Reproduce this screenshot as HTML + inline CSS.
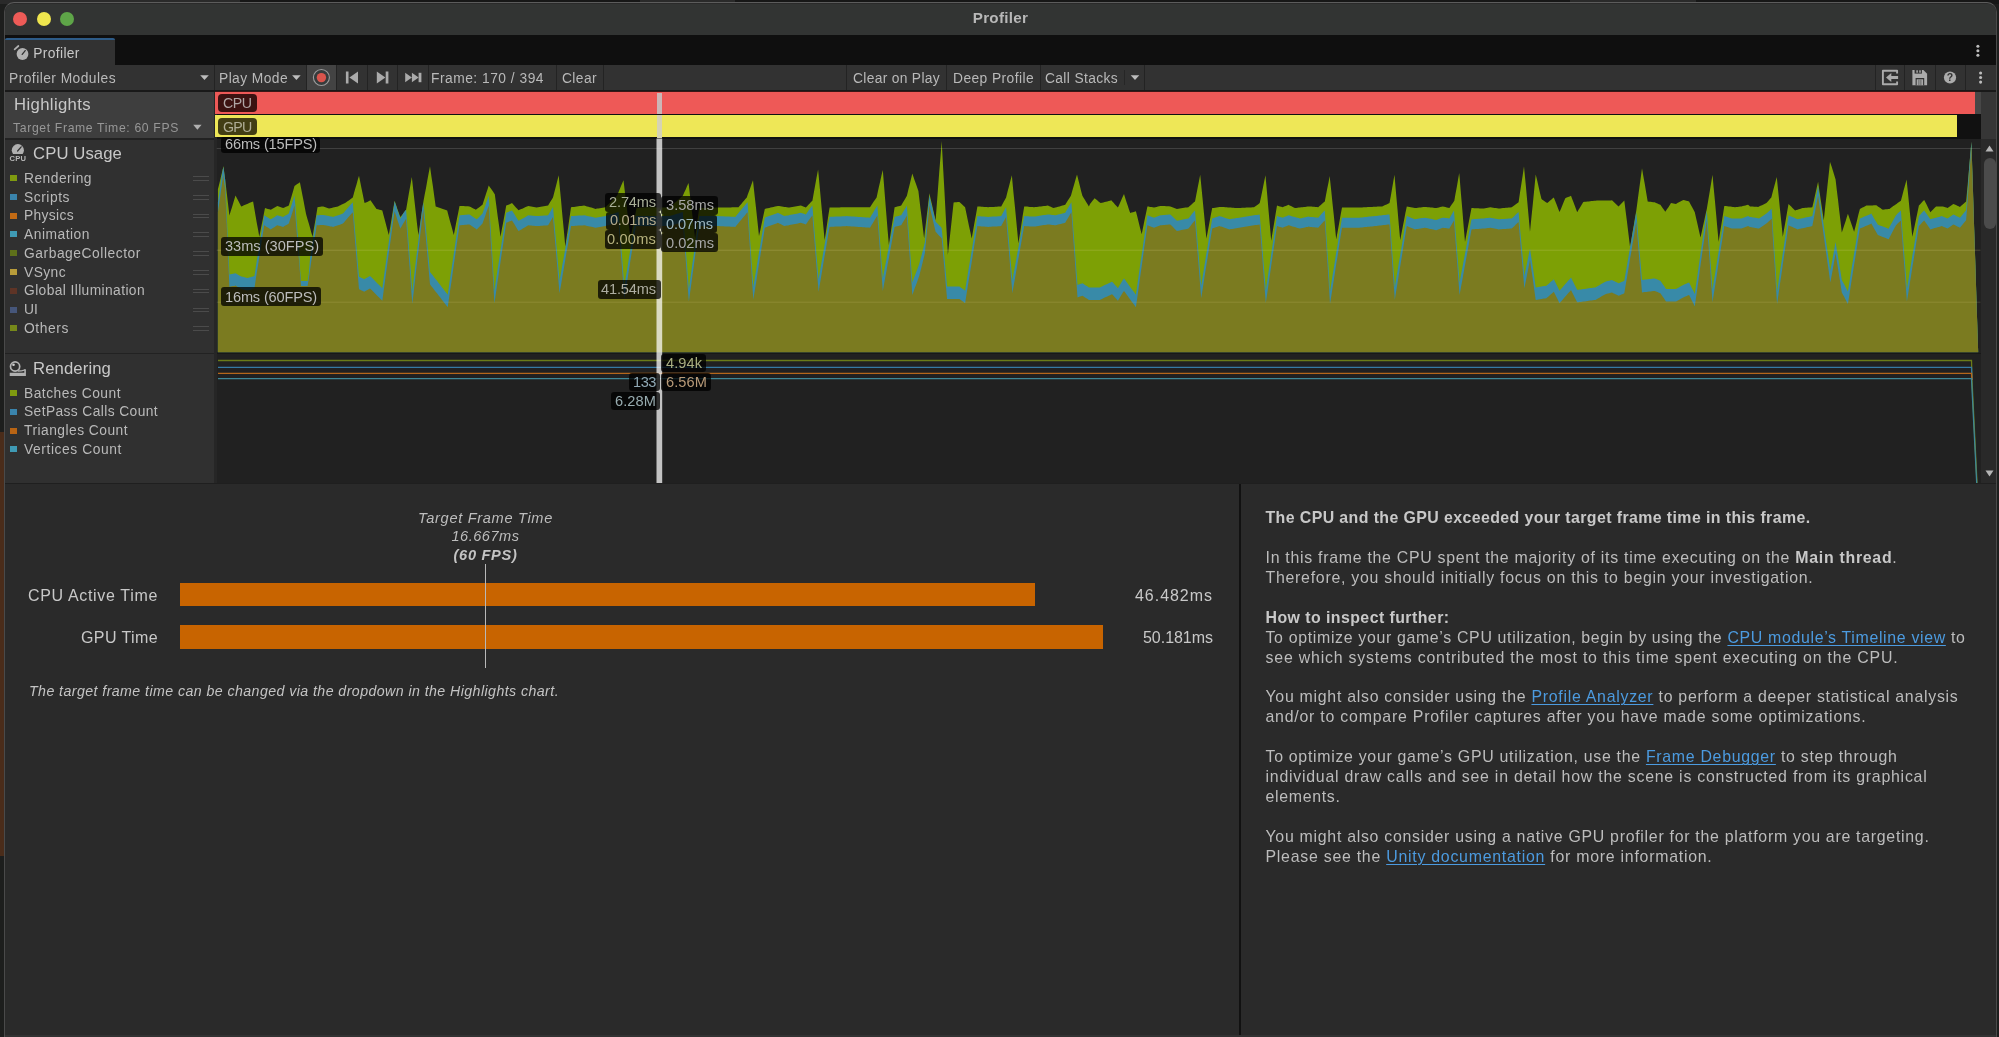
<!DOCTYPE html>
<html><head><meta charset="utf-8"><title>Profiler</title>
<style>
html,body{margin:0;padding:0;}
body{width:1999px;height:1037px;overflow:hidden;background:#1d1e1d;font-family:"Liberation Sans", sans-serif;position:relative;}
div,span,svg{position:absolute;box-sizing:border-box;}
.t{white-space:nowrap;line-height:20px;height:20px;}
.t b{position:static;font-weight:700;color:#c8c8c8}
.t span{position:static;}
.lnk{color:#4c9be0;text-decoration:underline;text-decoration-thickness:1px;text-underline-offset:2px;}
.sep{width:1px;top:65px;height:25px;background:#232323;}
.sq{left:10.4px;width:6.4px;height:6.2px;}
.hd{left:192.5px;width:16.7px;height:4.8px;border-top:1.2px solid #4b4b4b;border-bottom:1.2px solid #4b4b4b;}
#root{left:0;top:0;width:1999px;height:1037px;overflow:hidden;will-change:transform;background:#1d1e1d}
</style></head><body><div id="root">
<!-- background strips (other app behind) -->
<div style="left:0;top:0;width:1999px;height:4px;background:#171717"></div><div style="left:0;top:0;width:240px;height:4px;background:#2a2a2a"></div><div style="left:640px;top:0;width:95px;height:4px;background:#2a2a2a"></div><div style="left:1570px;top:0;width:126px;height:4px;background:#2a2a2a"></div>
<div style="left:0;top:431.5px;width:4px;height:424px;background:#4a2c1a"></div>
<!-- window -->
<div id="win" style="left:4px;top:2.2px;width:1993px;height:1040px;background:#2a2a2a;border-radius:10px 10px 0 0;overflow:hidden;border:1px solid #4a4a4a;border-top:1.8px solid #5c5c5c"></div><div style="left:5px;top:1034.7px;width:1991px;height:3px;background:#323232"></div>
<div style="left:5px;top:4px;width:1991px;height:31px;background:#323433;border-radius:8px 8px 0 0"></div>
<!-- traffic lights -->
<div style="left:13px;top:12px;width:14px;height:14px;border-radius:50%;background:#ee5b57"></div>
<div style="left:36.5px;top:12px;width:14px;height:14px;border-radius:50%;background:#efe64e"></div>
<div style="left:60px;top:12px;width:14px;height:14px;border-radius:50%;background:#5ea548"></div>
<!-- tab bar -->
<div style="left:5px;top:35px;width:1991px;height:30px;background:#0f0f0f"></div>
<div style="left:5px;top:38px;width:110px;height:27px;background:#323232;border-top:2px solid #2d5b87;border-radius:2px 2px 0 0"></div>
<!-- toolbar -->
<div style="left:5px;top:65px;width:1991px;height:25px;background:#323232"></div>
<div style="left:5px;top:90px;width:1991px;height:2px;background:#191919"></div>
<div style="left:307px;top:65px;width:29px;height:25px;background:#434343"></div>
<div style="left:215.2px;top:90.8px;width:1760px;height:1.2px;background:#3a1716"></div>
<div class="sep" style="left:214px"></div><div class="sep" style="left:306px"></div><div class="sep" style="left:336px"></div><div class="sep" style="left:367px"></div><div class="sep" style="left:397px"></div><div class="sep" style="left:428px"></div><div class="sep" style="left:556px"></div><div class="sep" style="left:603px"></div><div class="sep" style="left:846px"></div><div class="sep" style="left:946px"></div><div class="sep" style="left:1040px"></div><div class="sep" style="left:1144px"></div><div class="sep" style="left:1875px"></div><div class="sep" style="left:1904px"></div><div class="sep" style="left:1935px"></div><div class="sep" style="left:1965px"></div>
<div style="left:1124px;top:70px;width:1px;height:15px;background:#262626"></div>
<!-- left panel -->
<div style="left:5px;top:92px;width:209px;height:46px;background:#3e3e3e"></div>
<div style="left:5px;top:138px;width:209px;height:1.5px;background:#222"></div>
<div style="left:5px;top:139.5px;width:209px;height:213px;background:#303030"></div>
<div style="left:5px;top:352.5px;width:209px;height:1.5px;background:#222"></div>
<div style="left:5px;top:354px;width:209px;height:129.3px;background:#303030"></div>
<div style="left:214px;top:92px;width:2.5px;height:391px;background:#262626"></div>
<!-- charts bg -->
<div style="left:216.5px;top:92px;width:1764.5px;height:46.5px;background:#111"></div>
<div style="left:216.5px;top:138.5px;width:1764.5px;height:344.8px;background:#212121"></div>
<div style="left:216.5px;top:352.6px;width:1764.5px;height:1.6px;background:#181818"></div>
<!-- scrollbar column -->
<div style="left:1981px;top:92px;width:15px;height:46.5px;background:#363636"></div>
<div style="left:1981px;top:138.5px;width:15px;height:344.8px;background:#292929"></div>
<div style="left:1983.5px;top:157.5px;width:12.5px;height:71px;background:#4b4b4b;border-radius:6px"></div>
<svg style="left:1981px;top:140px" width="15" height="345" viewBox="0 0 15 345"><path d="M4.5,11.5 L12.5,11.5 L8.5,5.5 Z" fill="#b5b5b5"/><path d="M4.5,330.5 L12.5,330.5 L8.5,336.5 Z" fill="#b5b5b5"/></svg>
<!-- highlights bars -->
<div style="left:215.2px;top:92px;width:1759.8px;height:22px;background:#ee5957"></div>
<div style="left:1975px;top:92px;width:5.5px;height:22.3px;background:#474747"></div>
<div style="left:215.2px;top:115.2px;width:1741.8px;height:22.3px;background:#eee757"></div>
<div style="left:656.5px;top:93px;width:5.5px;height:21px;background:#c9bcbc;opacity:.95"></div>
<div style="left:656.5px;top:115.4px;width:5.5px;height:22.2px;background:#d6d3b4"></div>
<div style="left:218px;top:94.3px;width:38.6px;height:17.3px;border-radius:4px;background:#3c1211"></div>
<div style="left:218px;top:117.8px;width:38.6px;height:17.3px;border-radius:4px;background:#423e14"></div>
<!-- main chart -->
<svg style="left:0;top:0" width="1999" height="1037" viewBox="0 0 1999 1037">
<defs><clipPath id="cc"><rect x="216.5" y="138.5" width="1764.5" height="214"/></clipPath></defs>
<g clip-path="url(#cc)" shape-rendering="geometricPrecision">
<path d="M217.9,352.3 L217.9,189.2 L219.3,183.7 L220.6,178.3 L221.9,172.7 L223.2,167.3 L223.5,165.9 L224.3,172.8 L225.2,179.7 L226.6,191.6 L228.0,203.5 L229.4,215.4 L230.6,211.4 L231.9,207.4 L233.1,203.4 L234.3,199.4 L235.5,195.4 L236.9,198.2 L238.4,200.9 L239.8,203.7 L241.2,206.4 L242.6,205.9 L243.9,205.3 L245.2,204.8 L246.5,204.2 L247.8,203.7 L249.1,203.1 L250.4,202.6 L251.7,202.0 L253.1,201.5 L254.4,208.9 L255.6,215.9 L256.8,222.9 L258.1,229.8 L259.3,236.7 L260.5,230.6 L261.7,224.4 L263.0,218.3 L264.2,212.1 L265.0,208.1 L266.4,208.5 L267.9,208.9 L269.3,209.3 L270.8,209.7 L272.1,208.9 L273.4,208.2 L274.7,207.4 L276.0,206.7 L277.3,205.9 L278.8,206.5 L280.2,207.0 L281.6,207.5 L283.1,208.1 L284.5,207.4 L285.9,206.8 L287.4,206.2 L288.8,205.6 L290.2,200.7 L291.7,195.8 L293.1,190.9 L294.5,185.9 L295.9,185.0 L297.2,184.1 L298.6,183.2 L299.9,182.3 L301.1,188.2 L302.3,194.6 L303.6,201.0 L304.8,207.4 L306.0,213.8 L306.8,216.7 L307.6,219.5 L308.9,223.8 L310.1,228.1 L311.3,232.4 L312.6,236.7 L313.9,228.6 L315.3,220.4 L316.7,212.2 L317.5,207.3 L318.9,207.0 L320.4,206.8 L321.8,206.6 L323.2,206.4 L324.7,206.9 L326.1,207.5 L327.5,208.0 L329.0,208.5 L330.3,208.2 L331.7,207.9 L333.1,207.6 L334.3,207.3 L335.5,207.0 L336.8,206.7 L338.0,206.4 L339.2,205.8 L340.4,205.2 L341.7,204.6 L342.9,204.0 L344.0,203.4 L345.1,202.9 L346.2,202.3 L347.5,201.3 L348.8,200.4 L350.1,199.4 L351.4,198.4 L352.8,197.4 L354.0,193.1 L355.2,188.7 L356.5,184.4 L357.7,180.1 L359.0,175.8 L360.3,182.2 L361.6,188.7 L362.9,195.1 L364.2,201.5 L364.6,203.1 L365.9,202.5 L367.3,201.9 L368.6,201.2 L370.0,200.6 L370.5,200.3 L371.7,202.0 L372.9,203.8 L374.1,205.5 L375.3,207.2 L376.5,208.9 L378.0,209.3 L379.4,209.7 L380.8,210.1 L382.3,210.5 L383.6,215.4 L384.9,220.3 L386.2,225.3 L387.5,230.2 L388.8,235.1 L390.3,226.5 L391.7,217.9 L393.1,209.3 L394.6,200.7 L396.0,204.8 L397.4,208.9 L398.9,213.0 L400.3,217.1 L401.8,215.2 L403.2,213.4 L404.6,211.5 L406.1,209.7 L407.5,201.4 L408.9,193.3 L410.4,185.0 L411.8,176.9 L412.3,181.3 L413.5,192.0 L414.7,202.8 L415.9,213.6 L417.1,224.4 L418.4,235.1 L419.6,226.9 L420.8,218.7 L422.0,210.5 L423.3,202.3 L424.6,195.1 L426.0,187.9 L427.3,180.6 L428.6,173.5 L430.0,166.2 L431.4,176.3 L432.9,186.3 L434.3,196.4 L435.7,206.4 L437.2,206.9 L438.6,207.4 L440.1,208.0 L441.5,208.5 L442.9,209.0 L444.4,209.5 L445.8,210.0 L447.2,210.5 L447.7,212.4 L448.9,216.9 L450.1,221.5 L451.4,226.0 L452.6,230.6 L453.8,235.1 L455.2,227.8 L456.6,220.5 L458.1,213.2 L459.5,205.9 L460.9,206.0 L462.3,206.1 L463.7,206.1 L465.1,206.2 L466.6,206.3 L467.9,206.3 L469.4,206.4 L470.7,207.1 L472.0,207.7 L473.3,208.4 L474.6,209.0 L475.9,209.7 L476.7,209.1 L478.2,208.0 L479.6,206.9 L481.1,205.8 L482.5,204.8 L483.7,200.9 L485.0,197.1 L486.2,193.2 L487.5,189.4 L488.7,185.6 L490.1,187.6 L491.6,189.6 L493.0,191.6 L494.4,193.7 L494.8,194.2 L496.2,204.8 L497.6,215.4 L499.1,226.1 L500.5,236.7 L501.9,229.0 L503.4,221.2 L504.8,213.4 L506.2,205.6 L507.7,205.0 L509.1,204.4 L510.6,203.8 L512.0,203.1 L513.3,204.5 L514.6,205.9 L515.9,207.4 L517.2,208.8 L518.5,210.2 L520.0,209.6 L521.4,209.0 L522.8,208.4 L524.2,207.8 L525.6,207.1 L527.0,206.5 L528.4,205.9 L529.8,206.2 L531.1,206.5 L532.5,206.7 L533.9,207.0 L535.2,207.3 L536.6,207.6 L538.0,207.3 L539.5,207.1 L540.9,206.8 L542.3,206.6 L543.8,206.3 L545.2,206.1 L546.6,205.8 L548.1,205.6 L549.3,203.5 L550.5,201.5 L551.8,199.4 L553.0,197.4 L554.4,191.9 L555.9,186.3 L557.3,180.8 L558.7,175.3 L559.5,184.2 L561.0,199.7 L562.4,215.4 L563.9,231.0 L565.3,246.6 L566.7,236.8 L568.2,226.9 L569.6,217.0 L571.0,207.2 L572.5,207.1 L574.0,206.9 L575.4,206.7 L576.9,206.5 L578.3,206.3 L579.8,206.1 L581.2,206.0 L582.7,205.8 L584.1,205.6 L585.6,206.0 L587.0,206.4 L588.5,206.8 L589.9,207.2 L591.3,207.6 L592.8,208.1 L594.2,208.5 L595.6,208.9 L597.0,208.6 L598.4,208.4 L599.9,208.2 L601.2,207.9 L602.7,207.7 L604.1,207.5 L605.5,207.2 L606.9,205.8 L608.3,204.4 L609.8,202.9 L611.2,201.5 L612.6,200.1 L614.1,198.6 L615.5,197.2 L617.0,195.7 L617.8,193.8 L618.6,191.9 L619.8,188.9 L621.0,186.0 L622.3,183.1 L623.5,180.2 L624.3,187.1 L625.5,197.4 L626.8,207.6 L628.0,217.9 L629.2,228.1 L630.4,238.4 L631.8,231.8 L633.1,225.2 L634.5,218.6 L635.8,212.0 L636.6,208.1 L638.1,208.0 L639.5,207.8 L640.9,207.7 L642.4,207.6 L643.8,207.5 L645.2,207.4 L646.7,207.3 L648.1,207.2 L649.0,207.2 L650.0,207.2 L651.4,207.3 L652.8,207.3 L654.2,207.3 L655.6,207.3 L657.0,207.4 L658.4,207.4 L659.8,207.4 L661.2,207.4 L662.6,207.4 L664.1,207.5 L665.5,207.5 L666.9,207.5 L668.3,207.5 L669.7,207.6 L671.1,206.2 L672.6,204.9 L674.0,203.6 L675.5,202.3 L677.0,201.0 L678.4,199.7 L679.9,198.4 L681.3,197.1 L682.8,195.8 L684.2,192.6 L685.7,189.4 L687.1,186.1 L688.5,183.0 L688.9,185.8 L690.1,196.3 L691.4,206.8 L692.6,217.4 L693.9,227.9 L695.1,238.4 L696.5,228.2 L697.8,218.2 L699.2,208.1 L700.6,208.0 L702.0,208.0 L703.4,207.9 L704.8,207.9 L706.2,207.9 L707.6,207.8 L709.0,207.8 L710.5,207.8 L711.9,207.7 L713.3,207.7 L714.7,207.7 L716.1,207.6 L717.5,207.6 L718.9,207.6 L720.4,207.5 L721.9,207.5 L723.4,207.5 L724.8,207.5 L726.3,207.4 L727.8,207.4 L729.3,207.4 L730.8,207.4 L732.3,207.3 L733.8,207.3 L735.3,207.3 L736.4,207.3 L737.5,207.3 L738.5,207.2 L739.9,205.6 L741.3,204.0 L742.6,202.3 L744.0,200.7 L745.4,199.0 L746.8,197.4 L747.6,195.1 L748.9,191.4 L750.3,187.7 L751.6,183.9 L753.0,180.2 L753.3,183.2 L754.7,196.3 L756.2,209.5 L757.6,222.8 L759.0,235.9 L760.5,229.2 L761.9,222.4 L763.4,215.6 L764.8,208.9 L766.2,208.5 L767.7,208.2 L769.2,207.9 L770.6,207.6 L772.1,207.2 L773.5,206.9 L775.0,206.6 L776.5,206.3 L777.9,205.9 L779.2,206.1 L780.5,206.3 L781.9,206.5 L783.2,206.7 L784.5,206.9 L785.7,207.0 L786.9,207.2 L788.2,207.4 L789.4,207.6 L790.8,207.3 L792.3,207.1 L793.7,206.8 L795.1,206.6 L796.6,206.3 L798.0,206.1 L799.4,205.8 L800.9,205.6 L802.1,206.1 L803.3,206.6 L804.6,207.1 L805.8,207.6 L807.1,206.2 L808.4,204.8 L809.7,203.4 L811.0,202.0 L812.4,200.7 L813.8,192.8 L815.2,185.1 L816.6,177.3 L818.1,169.5 L818.6,174.8 L819.8,187.8 L821.0,200.9 L822.2,213.9 L823.4,227.1 L824.6,240.0 L825.9,231.9 L827.1,223.8 L828.3,215.7 L829.6,207.6 L831.0,207.5 L832.4,207.5 L833.9,207.5 L835.3,207.5 L836.8,207.4 L838.2,207.4 L839.6,207.4 L841.0,207.3 L842.5,207.3 L843.9,207.3 L845.4,207.3 L846.8,207.2 L848.2,207.2 L849.7,207.2 L851.1,207.2 L852.6,207.2 L854.0,207.2 L855.5,207.2 L856.9,207.2 L858.4,207.2 L859.9,207.2 L861.3,207.2 L862.8,207.2 L864.2,207.2 L865.6,207.2 L867.1,207.2 L868.5,207.2 L870.0,207.2 L871.3,205.3 L872.6,203.3 L873.9,201.3 L875.2,199.4 L876.6,197.4 L877.4,193.8 L878.7,187.8 L880.1,181.8 L881.4,175.8 L882.8,169.9 L884.0,184.8 L885.2,199.9 L886.4,214.9 L887.6,230.0 L888.9,244.9 L890.3,235.5 L891.7,226.1 L893.2,216.7 L894.6,207.2 L895.9,206.9 L897.2,206.6 L898.5,206.2 L899.9,205.9 L901.2,205.6 L902.6,203.1 L904.0,200.7 L905.5,198.2 L906.9,195.7 L908.2,190.2 L909.6,184.7 L911.0,179.1 L912.3,173.6 L913.5,177.1 L914.7,180.5 L916.0,184.0 L917.2,187.4 L918.4,190.9 L919.2,197.7 L920.4,207.9 L921.7,218.0 L922.9,228.2 L924.1,238.4 L924.9,231.3 L926.4,218.7 L927.9,206.0 L929.4,193.3 L930.6,198.7 L931.9,204.1 L933.1,209.5 L934.4,214.9 L935.6,220.3 L936.8,204.4 L938.0,188.6 L939.2,172.6 L940.5,156.7 L941.7,140.9 L943.0,165.5 L944.4,190.3 L945.7,215.0 L947.1,239.7 L947.9,254.7 L949.3,241.7 L950.8,228.6 L952.2,215.5 L953.6,202.4 L955.1,202.2 L956.5,202.2 L957.9,202.1 L959.4,202.0 L960.8,203.3 L962.2,204.6 L963.7,205.9 L965.1,207.2 L966.4,213.4 L967.7,219.7 L969.0,225.9 L970.4,232.2 L971.7,238.4 L973.1,230.4 L974.5,222.4 L976.0,214.5 L977.4,206.4 L978.7,206.5 L980.1,206.6 L981.4,206.7 L982.7,206.8 L984.1,206.9 L985.4,207.0 L986.7,207.1 L988.1,207.2 L989.5,207.1 L991.0,207.1 L992.4,207.0 L993.9,206.9 L995.4,206.8 L996.8,206.7 L998.3,206.6 L999.7,206.5 L1001.2,206.4 L1002.4,204.2 L1003.6,201.9 L1004.9,199.7 L1006.1,197.4 L1007.5,191.8 L1009.0,186.3 L1010.4,180.8 L1011.9,175.3 L1012.3,180.3 L1013.5,192.9 L1014.8,205.6 L1016.0,218.1 L1017.2,230.8 L1018.4,243.3 L1019.9,234.1 L1021.3,224.9 L1022.7,215.6 L1024.2,206.4 L1025.6,206.5 L1027.0,206.6 L1028.4,206.8 L1029.8,206.9 L1031.2,207.0 L1032.6,207.1 L1034.0,207.2 L1035.4,207.1 L1036.8,206.9 L1038.2,206.7 L1039.6,206.6 L1041.0,206.4 L1042.3,206.3 L1043.8,206.1 L1045.1,205.9 L1046.5,205.8 L1047.9,205.6 L1049.4,206.2 L1050.8,206.8 L1052.2,207.4 L1053.7,208.1 L1054.5,207.8 L1055.3,207.6 L1056.7,207.2 L1058.1,206.8 L1059.5,206.4 L1060.9,206.0 L1062.3,205.6 L1063.7,205.2 L1065.2,204.8 L1066.6,202.5 L1068.0,200.3 L1069.5,198.0 L1070.9,195.7 L1071.4,194.0 L1072.8,189.1 L1074.2,184.3 L1075.6,179.3 L1077.0,174.4 L1077.5,176.4 L1078.7,181.2 L1079.9,186.0 L1081.1,190.9 L1082.4,195.7 L1083.7,197.9 L1085.0,200.0 L1086.3,202.2 L1087.6,204.3 L1088.9,206.4 L1090.0,204.0 L1091.2,202.5 L1092.3,201.1 L1093.4,199.7 L1094.6,198.2 L1095.9,199.3 L1097.2,200.3 L1098.5,201.4 L1099.8,202.5 L1100.7,203.1 L1102.0,202.8 L1103.3,202.4 L1104.7,202.1 L1106.0,201.7 L1107.3,201.4 L1108.7,201.0 L1110.0,200.7 L1111.3,200.3 L1112.1,201.3 L1113.6,202.8 L1115.0,204.4 L1116.5,206.0 L1117.9,207.6 L1119.1,204.9 L1120.3,202.2 L1121.5,199.5 L1122.7,196.8 L1124.0,194.1 L1125.2,197.9 L1126.4,201.7 L1127.7,205.4 L1128.9,209.2 L1130.2,213.0 L1131.6,212.6 L1133.0,212.2 L1134.5,211.7 L1135.9,211.3 L1137.4,217.1 L1138.8,222.8 L1140.2,228.6 L1141.7,234.3 L1143.1,227.3 L1144.5,220.3 L1146.0,213.3 L1147.4,206.4 L1148.7,206.6 L1150.0,206.9 L1151.3,207.1 L1152.7,207.3 L1154.0,207.6 L1155.3,207.2 L1156.6,206.9 L1157.9,206.6 L1159.2,206.3 L1160.5,205.9 L1161.9,206.0 L1163.3,206.1 L1164.7,206.1 L1166.1,206.2 L1167.5,206.3 L1168.9,206.3 L1170.3,206.4 L1171.7,206.9 L1173.0,207.4 L1174.3,207.9 L1175.6,208.4 L1176.9,208.9 L1178.3,208.7 L1179.8,208.5 L1181.2,208.3 L1182.7,208.1 L1184.1,207.8 L1185.5,207.6 L1187.0,207.4 L1188.4,207.2 L1189.7,206.1 L1191.0,204.9 L1192.3,203.8 L1193.6,202.6 L1195.0,201.5 L1196.3,194.8 L1197.6,188.1 L1198.9,181.4 L1200.2,174.8 L1201.2,184.8 L1202.5,198.1 L1203.8,211.6 L1205.1,225.0 L1206.4,238.4 L1207.9,230.8 L1209.3,223.2 L1210.7,215.6 L1212.2,208.1 L1213.7,207.9 L1215.1,207.7 L1216.6,207.5 L1218.1,207.3 L1219.5,207.1 L1220.4,207.0 L1221.2,206.9 L1222.6,207.0 L1223.9,207.1 L1225.3,207.2 L1226.7,207.3 L1228.0,207.4 L1229.4,207.5 L1230.8,207.6 L1232.1,207.7 L1233.5,207.8 L1234.9,207.9 L1236.2,208.0 L1237.6,208.1 L1239.1,208.0 L1240.6,207.9 L1242.1,207.8 L1243.5,207.8 L1245.0,207.7 L1246.5,207.6 L1248.0,207.5 L1249.5,207.5 L1251.0,207.4 L1252.5,207.3 L1254.0,207.2 L1255.4,206.2 L1256.9,205.2 L1258.3,204.2 L1259.7,203.1 L1261.2,196.2 L1262.6,189.2 L1264.0,182.2 L1265.5,175.3 L1265.8,179.1 L1267.2,194.5 L1268.5,210.0 L1269.9,225.5 L1271.2,240.8 L1272.6,232.0 L1274.1,223.2 L1275.5,214.4 L1277.0,205.6 L1278.4,206.0 L1279.8,206.4 L1281.3,206.8 L1282.7,207.2 L1284.1,206.6 L1285.6,206.0 L1287.0,205.4 L1288.4,204.8 L1289.7,205.4 L1291.0,206.1 L1292.4,206.7 L1293.7,207.4 L1295.0,208.1 L1296.2,207.9 L1297.5,207.8 L1298.7,207.6 L1299.9,207.5 L1301.2,207.3 L1302.5,207.2 L1303.8,207.0 L1305.0,206.9 L1306.3,206.7 L1307.6,206.6 L1308.9,206.4 L1310.0,206.4 L1311.4,206.6 L1312.7,206.7 L1314.1,206.8 L1315.5,207.0 L1316.8,207.1 L1318.2,207.2 L1319.5,206.1 L1320.8,204.9 L1322.1,203.8 L1323.5,202.6 L1324.8,201.5 L1326.0,195.1 L1327.2,188.8 L1328.5,182.4 L1329.7,176.1 L1330.0,179.3 L1331.3,191.3 L1332.5,203.2 L1333.8,215.3 L1335.0,227.2 L1336.2,239.2 L1337.7,231.3 L1339.1,223.4 L1340.5,215.4 L1342.0,207.6 L1343.4,207.6 L1344.8,207.6 L1346.3,207.6 L1347.7,207.6 L1349.2,207.6 L1350.6,207.6 L1352.0,207.6 L1353.5,207.6 L1354.9,207.6 L1356.3,207.6 L1357.8,207.6 L1359.2,207.6 L1360.6,207.5 L1362.1,207.4 L1363.5,207.3 L1364.9,207.3 L1366.4,207.2 L1367.8,207.1 L1369.2,207.1 L1370.7,207.0 L1372.1,206.9 L1373.5,206.8 L1375.0,206.8 L1376.4,206.7 L1377.8,206.6 L1379.3,206.6 L1380.7,206.5 L1382.2,206.4 L1383.6,205.8 L1385.1,205.1 L1386.6,204.4 L1388.0,203.8 L1389.5,203.1 L1390.8,196.1 L1392.0,189.0 L1393.2,181.9 L1394.5,174.8 L1394.8,178.5 L1396.1,193.8 L1397.5,209.3 L1398.8,224.6 L1400.2,240.0 L1401.5,233.3 L1402.8,226.6 L1404.1,219.9 L1405.4,213.1 L1406.8,206.4 L1408.1,206.7 L1409.5,207.0 L1410.8,207.2 L1412.2,207.5 L1413.6,207.8 L1415.0,208.1 L1416.4,207.9 L1417.8,207.7 L1419.2,207.6 L1420.6,207.4 L1422.0,207.2 L1423.4,207.1 L1424.8,206.9 L1426.2,207.1 L1427.7,207.2 L1429.1,207.3 L1430.5,207.5 L1432.0,207.6 L1433.4,207.8 L1434.8,207.9 L1436.3,208.1 L1437.6,207.7 L1438.9,207.4 L1440.2,207.1 L1441.5,206.7 L1442.8,206.4 L1444.1,206.7 L1445.5,207.1 L1446.8,207.4 L1448.1,207.7 L1449.4,208.1 L1450.5,206.3 L1451.7,204.6 L1452.8,202.9 L1454.0,201.2 L1454.3,200.7 L1455.5,193.8 L1456.8,186.9 L1458.0,180.0 L1459.2,173.1 L1459.6,177.1 L1460.9,193.2 L1462.3,209.3 L1463.6,225.6 L1465.0,241.7 L1466.3,235.0 L1467.6,228.2 L1468.9,221.5 L1470.2,214.8 L1471.5,208.1 L1472.9,208.1 L1474.3,208.2 L1475.6,208.2 L1477.0,208.3 L1478.4,208.3 L1479.7,208.4 L1481.1,208.4 L1482.5,208.5 L1483.8,208.5 L1485.1,208.3 L1486.5,208.0 L1487.8,207.8 L1489.1,207.5 L1490.4,207.2 L1491.8,207.5 L1493.1,207.7 L1494.5,207.9 L1495.9,208.1 L1497.2,208.3 L1498.6,208.5 L1500.0,208.4 L1501.5,208.3 L1503.0,208.1 L1504.4,208.0 L1505.9,207.8 L1507.3,207.7 L1508.8,207.5 L1510.2,207.4 L1511.7,207.2 L1513.1,206.2 L1514.5,205.3 L1515.8,204.3 L1517.2,203.3 L1518.6,202.3 L1519.9,193.3 L1521.3,184.3 L1522.7,175.3 L1524.0,166.3 L1524.3,169.8 L1525.8,185.3 L1527.2,200.8 L1528.6,216.3 L1530.0,231.8 L1531.4,217.5 L1532.9,203.1 L1534.3,188.7 L1535.7,174.4 L1537.2,180.6 L1538.6,186.7 L1540.0,192.9 L1541.5,199.0 L1542.7,199.9 L1543.9,200.8 L1545.2,201.7 L1546.4,202.6 L1547.2,203.1 L1548.5,202.0 L1549.8,200.8 L1551.2,199.7 L1552.5,198.5 L1553.8,197.4 L1555.2,201.1 L1556.7,204.8 L1558.1,208.5 L1559.5,212.1 L1561.0,208.7 L1562.4,205.2 L1563.8,201.7 L1565.3,198.2 L1566.7,197.6 L1568.1,197.0 L1569.6,196.4 L1571.0,195.8 L1572.2,199.1 L1573.5,202.3 L1574.7,205.6 L1576.0,208.9 L1577.2,212.2 L1578.4,210.1 L1579.7,208.1 L1580.9,206.1 L1582.1,204.0 L1583.3,202.0 L1584.7,201.8 L1586.0,201.7 L1587.4,201.5 L1588.8,201.4 L1590.1,201.3 L1591.5,201.1 L1592.9,201.0 L1594.2,200.8 L1595.6,200.7 L1597.0,200.6 L1598.4,200.6 L1599.8,200.6 L1601.2,200.6 L1602.6,200.5 L1604.0,200.5 L1605.4,200.5 L1606.7,200.5 L1608.0,200.4 L1609.4,200.4 L1610.7,200.4 L1612.0,200.3 L1613.3,201.6 L1614.6,202.8 L1615.9,204.0 L1617.2,205.2 L1618.5,206.4 L1620.0,204.9 L1621.4,203.4 L1622.9,201.9 L1624.3,200.4 L1625.7,211.8 L1627.2,223.4 L1628.6,235.0 L1630.0,246.6 L1631.3,239.4 L1632.5,232.2 L1633.8,225.0 L1635.0,217.8 L1636.3,210.5 L1637.7,200.0 L1639.1,189.4 L1640.6,178.8 L1642.0,168.2 L1643.4,176.5 L1644.9,184.8 L1646.3,193.2 L1647.7,201.5 L1649.1,201.7 L1650.5,201.8 L1651.9,202.0 L1653.2,202.2 L1654.6,202.3 L1656.1,202.9 L1657.5,203.5 L1658.9,204.2 L1660.4,204.8 L1661.6,206.5 L1662.8,208.3 L1664.1,210.1 L1665.3,211.8 L1666.1,210.6 L1667.3,208.7 L1668.6,206.9 L1669.8,205.0 L1671.0,203.1 L1672.3,203.3 L1673.5,203.5 L1674.7,203.8 L1676.0,204.0 L1677.4,203.1 L1678.9,202.3 L1680.4,201.5 L1681.8,200.7 L1683.3,199.9 L1684.8,200.3 L1686.2,200.7 L1687.6,201.1 L1689.1,201.5 L1690.5,204.2 L1691.9,206.8 L1693.4,209.5 L1694.8,212.2 L1696.2,218.5 L1697.7,224.9 L1699.1,231.3 L1700.5,237.6 L1701.8,231.8 L1703.0,226.1 L1704.3,220.3 L1705.5,214.6 L1706.8,208.9 L1708.2,200.4 L1709.7,191.8 L1711.1,183.3 L1712.5,174.8 L1713.7,188.1 L1715.0,201.6 L1716.2,214.9 L1717.4,228.4 L1718.6,241.7 L1720.0,232.7 L1721.5,223.8 L1722.9,214.9 L1724.3,205.9 L1725.8,206.1 L1727.3,206.3 L1728.8,206.5 L1730.2,206.6 L1731.7,206.8 L1732.8,207.0 L1733.9,207.1 L1735.0,207.2 L1736.3,207.1 L1737.6,206.9 L1738.9,206.7 L1740.2,206.6 L1741.5,206.4 L1742.8,206.1 L1744.2,205.8 L1745.5,205.4 L1746.8,205.1 L1748.1,204.8 L1749.0,205.6 L1750.0,206.4 L1751.4,206.5 L1752.7,206.6 L1754.1,206.7 L1755.5,206.7 L1756.8,206.8 L1758.2,206.9 L1759.0,206.5 L1760.5,205.8 L1762.0,205.2 L1763.5,204.5 L1764.9,203.8 L1766.4,203.1 L1767.6,201.7 L1768.9,200.3 L1770.1,198.8 L1771.3,197.4 L1771.7,196.1 L1772.9,191.3 L1774.2,186.5 L1775.5,181.7 L1776.7,176.9 L1777.1,180.2 L1778.5,194.3 L1779.9,208.5 L1781.4,222.7 L1782.8,236.7 L1784.2,228.6 L1785.7,220.3 L1787.1,212.1 L1788.5,204.0 L1789.8,205.3 L1791.2,206.6 L1792.5,207.9 L1793.8,209.2 L1795.1,210.5 L1796.3,210.1 L1797.6,209.7 L1798.8,209.3 L1800.0,208.9 L1801.2,208.5 L1802.5,208.1 L1803.9,207.9 L1805.3,207.8 L1806.7,207.7 L1808.1,207.6 L1809.5,207.5 L1810.9,207.4 L1812.3,207.2 L1813.8,200.9 L1815.2,194.5 L1816.6,188.2 L1818.1,181.8 L1819.5,191.5 L1820.9,201.1 L1822.4,210.7 L1823.8,220.3 L1825.0,208.6 L1826.3,196.8 L1827.5,185.2 L1828.8,173.4 L1830.0,161.7 L1830.3,162.7 L1831.7,166.8 L1833.0,171.0 L1834.3,175.2 L1835.6,179.4 L1836.8,190.0 L1838.1,200.6 L1839.3,211.3 L1840.6,221.9 L1841.8,232.6 L1843.0,228.9 L1844.3,225.1 L1845.5,221.4 L1846.7,217.6 L1847.9,213.8 L1849.2,217.4 L1850.4,221.0 L1851.6,224.6 L1852.9,228.2 L1854.1,231.8 L1855.6,226.1 L1857.0,220.4 L1858.4,214.6 L1859.9,208.9 L1861.2,208.2 L1862.5,207.6 L1863.8,206.9 L1865.1,206.3 L1866.4,205.6 L1867.7,205.6 L1868.9,205.5 L1870.1,205.5 L1871.3,205.4 L1872.6,205.4 L1873.8,205.3 L1875.0,205.3 L1876.3,205.3 L1877.1,205.8 L1877.9,206.4 L1879.1,207.2 L1880.4,208.0 L1881.6,208.9 L1882.8,209.7 L1884.3,209.5 L1885.7,209.3 L1887.1,209.2 L1888.6,209.0 L1889.4,208.9 L1890.7,208.0 L1892.0,207.0 L1893.3,206.1 L1894.6,205.2 L1896.0,204.3 L1896.8,203.7 L1897.6,203.1 L1898.7,202.3 L1899.8,201.5 L1900.9,200.7 L1902.3,195.4 L1903.7,190.0 L1905.2,184.7 L1906.6,179.4 L1906.9,182.7 L1908.3,196.2 L1909.6,209.7 L1911.0,223.3 L1912.3,236.7 L1913.7,230.5 L1915.0,224.3 L1916.3,218.0 L1917.6,211.8 L1918.9,205.6 L1920.2,204.2 L1921.5,202.7 L1922.8,201.3 L1924.2,199.9 L1925.4,202.3 L1926.7,204.8 L1927.9,207.2 L1929.1,209.7 L1930.4,212.2 L1931.8,210.7 L1933.3,209.3 L1934.7,207.8 L1936.1,206.4 L1937.6,206.4 L1939.0,206.4 L1940.4,206.4 L1941.9,206.4 L1942.7,206.4 L1943.9,206.8 L1945.2,207.2 L1946.4,207.6 L1947.6,208.1 L1949.0,207.0 L1950.5,206.0 L1951.9,205.0 L1953.3,204.0 L1954.7,204.5 L1956.0,205.1 L1957.3,205.7 L1958.6,206.3 L1959.9,206.9 L1961.2,205.8 L1962.4,204.7 L1963.6,203.7 L1964.9,202.6 L1966.1,201.5 L1967.5,186.5 L1968.8,171.6 L1970.1,156.6 L1971.4,141.7 L1972.8,183.8 L1974.1,225.8 L1975.5,268.1 L1976.8,310.1 L1978.2,352.3 L1978.2,352.3 Z" fill="#7da005"/>
<path d="M217.9,352.3 L217.9,202.2 L219.3,193.0 L220.6,183.7 L221.9,174.5 L223.2,167.3 L223.5,167.6 L224.3,173.4 L225.2,179.7 L226.6,211.8 L228.0,243.1 L229.4,274.4 L230.6,274.2 L231.9,274.0 L233.1,273.7 L234.3,273.5 L235.5,273.3 L236.9,274.1 L238.4,274.9 L239.8,275.7 L241.2,276.4 L242.6,276.8 L243.9,277.1 L245.2,277.4 L246.5,277.7 L247.8,278.0 L249.1,277.6 L250.4,277.2 L251.7,276.8 L253.1,276.4 L254.4,276.0 L255.6,268.4 L256.8,260.8 L258.1,253.2 L259.3,245.6 L260.5,238.0 L261.7,230.4 L263.0,222.9 L264.2,215.3 L265.0,215.8 L266.4,216.7 L267.9,217.5 L269.3,218.4 L270.8,219.2 L272.1,218.5 L273.4,217.7 L274.7,216.9 L276.0,216.1 L277.3,215.3 L278.8,215.7 L280.2,216.1 L281.6,216.5 L283.1,216.9 L284.5,216.1 L285.9,215.3 L287.4,214.5 L288.8,213.6 L290.2,209.1 L291.7,204.6 L293.1,200.1 L294.5,195.6 L295.9,212.1 L297.2,228.2 L298.6,244.1 L299.9,267.2 L301.1,281.0 L302.3,281.0 L303.6,281.0 L304.8,281.0 L306.0,281.0 L306.8,281.0 L307.6,281.0 L308.9,272.9 L310.1,257.7 L311.3,249.8 L312.6,241.8 L313.9,233.0 L315.3,224.2 L316.7,215.3 L317.5,215.2 L318.9,215.2 L320.4,215.1 L321.8,215.0 L323.2,214.9 L324.7,215.2 L326.1,215.5 L327.5,215.8 L329.0,216.1 L330.3,216.4 L331.7,216.6 L333.1,216.9 L334.3,216.5 L335.5,216.1 L336.8,215.7 L338.0,215.3 L339.2,214.9 L340.4,214.5 L341.7,214.0 L342.9,213.6 L344.0,212.4 L345.1,211.1 L346.2,209.8 L347.5,208.3 L348.8,206.8 L350.1,205.2 L351.4,203.7 L352.8,202.2 L354.0,217.6 L355.2,232.3 L356.5,247.1 L357.7,261.9 L359.0,276.7 L360.3,277.3 L361.6,278.0 L362.9,278.6 L364.2,279.2 L364.6,279.0 L365.9,278.2 L367.3,277.5 L368.6,276.7 L370.0,276.0 L370.5,276.4 L371.7,277.6 L372.9,278.8 L374.1,280.0 L375.3,281.3 L376.5,282.5 L378.0,283.9 L379.4,285.3 L380.8,286.8 L382.3,288.2 L383.6,278.7 L384.9,269.5 L386.2,260.3 L387.5,251.1 L388.8,242.0 L390.3,232.0 L391.7,221.9 L393.1,211.8 L394.6,201.3 L396.0,205.6 L397.4,210.0 L398.9,214.3 L400.3,218.4 L401.8,216.1 L403.2,213.6 L404.6,211.5 L406.1,209.7 L407.5,228.0 L408.9,246.8 L410.4,265.7 L411.8,284.8 L412.3,291.5 L413.5,281.0 L414.7,270.7 L415.9,260.6 L417.1,250.5 L418.4,240.4 L419.6,230.2 L420.8,220.0 L422.0,210.5 L423.3,202.3 L424.6,214.1 L426.0,228.5 L427.3,243.1 L428.6,257.5 L430.0,272.0 L431.4,273.8 L432.9,275.6 L434.3,277.4 L435.7,279.3 L437.2,281.1 L438.6,283.0 L440.1,284.8 L441.5,286.7 L442.9,288.6 L444.4,290.4 L445.8,292.3 L447.2,294.1 L447.7,294.8 L448.9,286.4 L450.1,277.9 L451.4,269.8 L452.6,261.7 L453.8,253.6 L455.2,244.0 L456.6,234.4 L458.1,224.9 L459.5,215.3 L460.9,215.2 L462.3,215.0 L463.7,214.9 L465.1,214.8 L466.6,214.7 L467.9,214.6 L469.4,214.5 L470.7,215.3 L472.0,216.2 L473.3,217.0 L474.6,217.9 L475.9,218.7 L476.7,219.2 L478.2,217.9 L479.6,216.5 L481.1,215.1 L482.5,213.6 L483.7,210.0 L485.0,206.4 L486.2,202.8 L487.5,199.2 L488.7,195.6 L490.1,219.8 L491.6,243.3 L493.0,266.7 L494.4,290.7 L494.8,288.4 L496.2,278.7 L497.6,269.3 L499.1,259.9 L500.5,250.5 L501.9,241.2 L503.4,231.7 L504.8,222.4 L506.2,212.8 L507.7,212.2 L509.1,211.6 L510.6,211.0 L512.0,210.4 L513.3,212.5 L514.6,214.6 L515.9,216.7 L517.2,218.8 L518.5,220.8 L520.0,220.0 L521.4,219.2 L522.8,218.5 L524.2,217.7 L525.6,216.9 L527.0,216.1 L528.4,215.3 L529.8,215.4 L531.1,215.5 L532.5,215.7 L533.9,215.8 L535.2,216.0 L536.6,216.1 L538.0,216.0 L539.5,215.9 L540.9,215.8 L542.3,215.7 L543.8,215.6 L545.2,215.5 L546.6,215.4 L548.1,215.3 L549.3,213.2 L550.5,211.2 L551.8,209.1 L553.0,207.1 L554.4,223.4 L555.9,239.5 L557.3,255.6 L558.7,271.5 L559.5,280.8 L561.0,272.7 L562.4,264.5 L563.9,256.4 L565.3,248.4 L566.7,240.3 L568.2,232.2 L569.6,224.1 L571.0,216.1 L572.5,216.0 L574.0,215.9 L575.4,215.8 L576.9,215.7 L578.3,215.6 L579.8,215.5 L581.2,215.5 L582.7,215.4 L584.1,215.3 L585.6,215.6 L587.0,215.9 L588.5,216.2 L589.9,216.5 L591.3,216.8 L592.8,217.1 L594.2,217.4 L595.6,217.7 L597.0,217.4 L598.4,217.2 L599.9,217.0 L601.2,216.8 L602.7,216.5 L604.1,216.3 L605.5,216.1 L606.9,215.6 L608.3,215.2 L609.8,214.7 L611.2,214.3 L612.6,213.9 L614.1,213.4 L615.5,213.0 L617.0,212.5 L617.8,212.2 L618.6,212.0 L619.8,228.1 L621.0,243.9 L622.3,259.8 L623.5,275.7 L624.3,286.5 L625.5,278.9 L626.8,271.4 L628.0,264.0 L629.2,256.6 L630.4,249.2 L631.8,240.9 L633.1,232.6 L634.5,224.4 L635.8,216.1 L636.6,216.1 L638.1,216.1 L639.5,216.1 L640.9,216.1 L642.4,216.1 L643.8,216.1 L645.2,216.1 L646.7,216.1 L648.1,216.1 L649.0,216.1 L650.0,216.1 L651.4,216.1 L652.8,216.1 L654.2,216.1 L655.6,216.1 L657.0,216.1 L658.4,216.1 L659.8,216.1 L661.2,216.1 L662.6,216.1 L664.1,216.1 L665.5,216.1 L666.9,216.1 L668.3,216.1 L669.7,216.1 L671.1,215.6 L672.6,215.2 L674.0,214.7 L675.5,214.3 L677.0,213.8 L678.4,213.4 L679.9,212.9 L681.3,212.4 L682.8,212.0 L684.2,230.2 L685.7,248.3 L687.1,266.5 L688.5,284.8 L688.9,289.0 L690.1,279.9 L691.4,271.1 L692.6,262.3 L693.9,253.6 L695.1,244.8 L696.5,235.2 L697.8,225.7 L699.2,216.1 L700.6,216.1 L702.0,216.1 L703.4,216.1 L704.8,216.1 L706.2,216.1 L707.6,216.1 L709.0,216.1 L710.5,216.1 L711.9,216.1 L713.3,216.1 L714.7,216.1 L716.1,216.1 L717.5,216.1 L718.9,216.1 L720.4,216.2 L721.9,216.2 L723.4,216.3 L724.8,216.4 L726.3,216.4 L727.8,216.5 L729.3,216.6 L730.8,216.7 L732.3,216.7 L733.8,216.8 L735.3,216.9 L736.4,215.6 L737.5,214.3 L738.5,213.0 L739.9,211.3 L741.3,209.7 L742.6,208.1 L744.0,206.4 L745.4,204.8 L746.8,203.1 L747.6,202.2 L748.9,222.5 L750.3,242.5 L751.6,262.3 L753.0,282.3 L753.3,287.3 L754.7,278.4 L756.2,269.7 L757.6,261.0 L759.0,252.3 L760.5,243.7 L761.9,235.0 L763.4,226.3 L764.8,217.7 L766.2,217.1 L767.7,216.6 L769.2,216.1 L770.6,215.5 L772.1,215.0 L773.5,214.5 L775.0,213.9 L776.5,213.4 L777.9,212.8 L779.2,213.5 L780.5,214.1 L781.9,214.8 L783.2,215.4 L784.5,216.1 L785.7,215.8 L786.9,215.6 L788.2,215.4 L789.4,215.1 L790.8,214.8 L792.3,214.5 L793.7,214.2 L795.1,214.0 L796.6,213.7 L798.0,213.4 L799.4,213.1 L800.9,212.8 L802.1,213.2 L803.3,213.6 L804.6,214.0 L805.8,214.5 L807.1,212.7 L808.4,210.8 L809.7,209.0 L811.0,207.2 L812.4,205.5 L813.8,222.8 L815.2,239.6 L816.6,256.4 L818.1,273.4 L818.6,279.2 L819.8,272.3 L821.0,265.4 L822.2,258.5 L823.4,251.6 L824.6,244.7 L825.9,237.8 L827.1,230.8 L828.3,223.8 L829.6,216.9 L831.0,216.8 L832.4,216.7 L833.9,216.7 L835.3,216.6 L836.8,216.5 L838.2,216.5 L839.6,216.4 L841.0,216.4 L842.5,216.3 L843.9,216.2 L845.4,216.2 L846.8,216.1 L848.2,216.2 L849.7,216.3 L851.1,216.4 L852.6,216.5 L854.0,216.6 L855.5,216.7 L856.9,216.8 L858.4,216.9 L859.9,217.0 L861.3,217.1 L862.8,217.2 L864.2,217.3 L865.6,217.4 L867.1,217.5 L868.5,217.6 L870.0,217.7 L871.3,215.6 L872.6,213.4 L873.9,211.2 L875.2,209.0 L876.6,206.8 L877.4,205.4 L878.7,223.9 L880.1,242.2 L881.4,260.2 L882.8,278.4 L884.0,272.0 L885.2,265.7 L886.4,259.4 L887.6,253.0 L888.9,246.7 L890.3,239.3 L891.7,231.8 L893.2,224.4 L894.6,216.9 L895.9,216.6 L897.2,216.2 L898.5,215.9 L899.9,215.6 L901.2,215.3 L902.6,212.8 L904.0,210.4 L905.5,207.9 L906.9,205.5 L908.2,225.0 L909.6,244.2 L911.0,263.2 L912.3,282.5 L913.5,279.2 L914.7,275.9 L916.0,272.7 L917.2,269.5 L918.4,266.3 L919.2,264.1 L920.4,259.4 L921.7,254.7 L922.9,250.0 L924.1,245.2 L924.9,242.1 L926.4,226.9 L927.9,211.4 L929.4,195.6 L930.6,200.8 L931.9,206.1 L933.1,211.3 L934.4,216.6 L935.6,221.6 L936.8,222.9 L938.0,224.1 L939.2,225.4 L940.5,226.6 L941.7,227.9 L943.0,242.4 L944.4,257.1 L945.7,271.6 L947.1,286.5 L947.9,286.6 L949.3,286.6 L950.8,286.6 L952.2,286.6 L953.6,286.6 L955.1,286.6 L956.5,286.6 L957.9,286.6 L959.4,286.6 L960.8,287.6 L962.2,288.6 L963.7,289.6 L965.1,290.7 L966.4,282.5 L967.7,274.4 L969.0,266.4 L970.4,258.6 L971.7,250.7 L973.1,242.0 L974.5,233.4 L976.0,224.8 L977.4,216.1 L978.7,216.2 L980.1,216.3 L981.4,216.4 L982.7,216.5 L984.1,216.6 L985.4,216.7 L986.7,216.8 L988.1,216.9 L989.5,216.8 L991.0,216.7 L992.4,216.6 L993.9,216.5 L995.4,216.4 L996.8,216.4 L998.3,216.3 L999.7,216.2 L1001.2,216.1 L1002.4,213.8 L1003.6,211.6 L1004.9,209.3 L1006.1,207.1 L1007.5,224.4 L1009.0,241.2 L1010.4,258.0 L1011.9,274.9 L1012.3,280.8 L1013.5,274.1 L1014.8,267.4 L1016.0,260.8 L1017.2,254.1 L1018.4,247.5 L1019.9,239.6 L1021.3,231.8 L1022.7,223.9 L1024.2,216.1 L1025.6,216.2 L1027.0,216.2 L1028.4,216.3 L1029.8,216.4 L1031.2,216.4 L1032.6,216.5 L1034.0,216.6 L1035.4,216.4 L1036.8,216.2 L1038.2,215.9 L1039.6,215.7 L1041.0,215.5 L1042.3,215.3 L1043.8,215.1 L1045.1,214.9 L1046.5,214.7 L1047.9,214.5 L1049.4,214.6 L1050.8,214.8 L1052.2,214.9 L1053.7,215.1 L1054.5,215.2 L1055.3,215.3 L1056.7,214.9 L1058.1,214.6 L1059.5,214.2 L1060.9,213.9 L1062.3,213.5 L1063.7,213.2 L1065.2,212.8 L1066.6,210.3 L1068.0,207.9 L1069.5,205.4 L1070.9,203.0 L1071.4,202.2 L1072.8,221.5 L1074.2,240.3 L1075.6,259.2 L1077.0,278.0 L1077.5,284.9 L1078.7,284.5 L1079.9,284.1 L1081.1,283.7 L1082.4,283.3 L1083.7,284.1 L1085.0,284.9 L1086.3,285.7 L1087.6,286.6 L1088.9,287.4 L1090.0,287.4 L1091.2,287.4 L1092.3,287.4 L1093.4,287.4 L1094.6,287.4 L1095.9,287.4 L1097.2,287.4 L1098.5,287.4 L1099.8,287.4 L1100.7,287.0 L1102.0,286.4 L1103.3,285.8 L1104.7,285.1 L1106.0,284.5 L1107.3,283.9 L1108.7,283.3 L1110.0,282.7 L1111.3,282.0 L1112.1,281.7 L1113.6,283.3 L1115.0,284.9 L1116.5,286.6 L1117.9,288.2 L1119.1,286.2 L1120.3,284.3 L1121.5,282.3 L1122.7,280.3 L1124.0,278.4 L1125.2,280.1 L1126.4,281.8 L1127.7,283.5 L1128.9,285.2 L1130.2,286.9 L1131.6,288.9 L1133.0,290.8 L1134.5,292.8 L1135.9,294.7 L1137.4,284.5 L1138.8,274.4 L1140.2,264.5 L1141.7,254.7 L1143.1,244.8 L1144.5,235.0 L1146.0,225.1 L1147.4,215.3 L1148.7,215.8 L1150.0,216.2 L1151.3,216.7 L1152.7,217.2 L1154.0,217.7 L1155.3,217.2 L1156.6,216.7 L1157.9,216.2 L1159.2,215.8 L1160.5,215.3 L1161.9,215.2 L1163.3,215.0 L1164.7,214.9 L1166.1,214.8 L1167.5,214.7 L1168.9,214.6 L1170.3,214.5 L1171.7,215.8 L1173.0,217.0 L1174.3,218.3 L1175.6,219.6 L1176.9,220.8 L1178.3,220.5 L1179.8,220.2 L1181.2,219.9 L1182.7,219.6 L1184.1,219.3 L1185.5,219.0 L1187.0,218.7 L1188.4,218.5 L1189.7,216.9 L1191.0,215.3 L1192.3,213.6 L1193.6,212.0 L1195.0,210.4 L1196.3,226.3 L1197.6,242.1 L1198.9,257.9 L1200.2,273.6 L1201.2,285.7 L1202.5,277.5 L1203.8,269.4 L1205.1,261.4 L1206.4,253.4 L1207.9,244.7 L1209.3,236.0 L1210.7,227.2 L1212.2,218.5 L1213.7,218.0 L1215.1,217.5 L1216.6,217.0 L1218.1,216.6 L1219.5,216.1 L1220.4,216.4 L1221.2,216.6 L1222.6,217.1 L1223.9,217.5 L1225.3,217.9 L1226.7,218.4 L1228.0,218.8 L1229.4,219.2 L1230.8,219.0 L1232.1,218.8 L1233.5,218.6 L1234.9,218.4 L1236.2,218.1 L1237.6,217.9 L1239.1,217.7 L1240.6,217.5 L1242.1,217.2 L1243.5,217.0 L1245.0,216.7 L1246.5,216.5 L1248.0,216.3 L1249.5,216.0 L1251.0,215.8 L1252.5,215.5 L1254.0,215.3 L1255.4,215.1 L1256.9,214.9 L1258.3,214.7 L1259.7,214.5 L1261.2,232.4 L1262.6,250.3 L1264.0,268.3 L1265.5,286.4 L1265.8,290.6 L1267.2,281.3 L1268.5,272.1 L1269.9,263.2 L1271.2,254.2 L1272.6,244.7 L1274.1,235.1 L1275.5,225.6 L1277.0,216.1 L1278.4,216.5 L1279.8,216.9 L1281.3,217.3 L1282.7,217.7 L1284.1,217.1 L1285.6,216.5 L1287.0,215.9 L1288.4,215.3 L1289.7,215.6 L1291.0,216.0 L1292.4,216.4 L1293.7,216.7 L1295.0,217.1 L1296.2,217.4 L1297.5,217.8 L1298.7,218.1 L1299.9,218.5 L1301.2,218.2 L1302.5,217.9 L1303.8,217.6 L1305.0,217.4 L1306.3,217.1 L1307.6,216.8 L1308.9,216.6 L1310.0,216.9 L1311.4,217.0 L1312.7,217.1 L1314.1,217.3 L1315.5,217.4 L1316.8,217.5 L1318.2,217.7 L1319.5,216.2 L1320.8,214.8 L1322.1,213.3 L1323.5,211.8 L1324.8,210.4 L1326.0,229.4 L1327.2,248.3 L1328.5,267.1 L1329.7,286.3 L1330.0,291.5 L1331.3,283.5 L1332.5,275.7 L1333.8,268.0 L1335.0,260.4 L1336.2,252.8 L1337.7,244.0 L1339.1,235.2 L1340.5,226.4 L1342.0,217.7 L1343.4,217.7 L1344.8,217.7 L1346.3,217.7 L1347.7,217.7 L1349.2,217.7 L1350.6,217.7 L1352.0,217.7 L1353.5,217.7 L1354.9,217.7 L1356.3,217.7 L1357.8,217.7 L1359.2,217.7 L1360.6,217.5 L1362.1,217.4 L1363.5,217.2 L1364.9,217.1 L1366.4,216.9 L1367.8,216.8 L1369.2,216.6 L1370.7,216.5 L1372.1,216.3 L1373.5,216.2 L1375.0,216.0 L1376.4,215.9 L1377.8,215.7 L1379.3,215.6 L1380.7,215.4 L1382.2,215.3 L1383.6,215.1 L1385.1,214.9 L1386.6,214.8 L1388.0,214.6 L1389.5,214.5 L1390.8,231.4 L1392.0,248.4 L1393.2,265.4 L1394.5,282.6 L1394.8,287.4 L1396.1,279.1 L1397.5,271.0 L1398.8,263.0 L1400.2,255.0 L1401.5,247.2 L1402.8,239.4 L1404.1,231.6 L1405.4,223.9 L1406.8,216.1 L1408.1,216.6 L1409.5,217.1 L1410.8,217.7 L1412.2,218.2 L1413.6,218.7 L1415.0,219.2 L1416.4,219.0 L1417.8,218.8 L1419.2,218.6 L1420.6,218.3 L1422.0,218.1 L1423.4,217.9 L1424.8,217.7 L1426.2,218.0 L1427.7,218.3 L1429.1,218.6 L1430.5,218.8 L1432.0,219.1 L1433.4,219.4 L1434.8,219.7 L1436.3,220.0 L1437.6,219.6 L1438.9,219.1 L1440.2,218.6 L1441.5,218.1 L1442.8,217.7 L1444.1,217.8 L1445.5,218.0 L1446.8,218.1 L1448.1,218.3 L1449.4,218.5 L1450.5,216.5 L1451.7,214.5 L1452.8,212.4 L1454.0,210.4 L1454.3,214.7 L1455.5,230.6 L1456.8,246.4 L1458.0,262.2 L1459.2,278.1 L1459.6,282.5 L1460.9,275.2 L1462.3,268.0 L1463.6,260.9 L1465.0,253.8 L1466.3,246.9 L1467.6,240.0 L1468.9,233.0 L1470.2,226.1 L1471.5,219.2 L1472.9,219.2 L1474.3,219.1 L1475.6,219.0 L1477.0,218.9 L1478.4,218.8 L1479.7,218.7 L1481.1,218.6 L1482.5,218.5 L1483.8,218.5 L1485.1,218.3 L1486.5,218.1 L1487.8,218.0 L1489.1,217.8 L1490.4,217.7 L1491.8,217.9 L1493.1,218.2 L1494.5,218.5 L1495.9,218.7 L1497.2,219.0 L1498.6,219.2 L1500.0,219.2 L1501.5,219.1 L1503.0,219.0 L1504.4,218.9 L1505.9,218.8 L1507.3,218.7 L1508.8,218.6 L1510.2,218.5 L1511.7,218.4 L1513.1,217.2 L1514.5,215.9 L1515.8,214.6 L1517.2,213.3 L1518.6,212.0 L1519.9,227.1 L1521.3,242.3 L1522.7,257.3 L1524.0,272.3 L1524.3,275.9 L1525.8,269.1 L1527.2,262.2 L1528.6,255.3 L1530.0,248.4 L1531.4,258.0 L1532.9,267.7 L1534.3,277.4 L1535.7,287.4 L1537.2,287.2 L1538.6,286.9 L1540.0,286.7 L1541.5,286.5 L1542.7,286.3 L1543.9,286.1 L1545.2,285.9 L1546.4,285.7 L1547.2,285.0 L1548.5,283.9 L1549.8,282.7 L1551.2,281.5 L1552.5,280.4 L1553.8,279.2 L1555.2,282.1 L1556.7,284.9 L1558.1,287.8 L1559.5,290.7 L1561.0,289.0 L1562.4,287.4 L1563.8,285.7 L1565.3,284.1 L1566.7,282.5 L1568.1,280.8 L1569.6,279.2 L1571.0,277.6 L1572.2,280.0 L1573.5,282.5 L1574.7,284.9 L1576.0,287.4 L1577.2,289.8 L1578.4,289.7 L1579.7,289.5 L1580.9,289.4 L1582.1,289.2 L1583.3,289.0 L1584.7,288.9 L1586.0,288.7 L1587.4,288.5 L1588.8,288.3 L1590.1,288.1 L1591.5,287.9 L1592.9,287.8 L1594.2,287.6 L1595.6,287.4 L1597.0,286.6 L1598.4,285.7 L1599.8,284.9 L1601.2,284.1 L1602.6,283.3 L1604.0,282.5 L1605.4,281.7 L1606.7,281.3 L1608.0,281.0 L1609.4,280.7 L1610.7,280.3 L1612.0,280.0 L1613.3,280.7 L1614.6,281.3 L1615.9,282.0 L1617.2,282.6 L1618.5,283.3 L1620.0,282.7 L1621.4,282.1 L1622.9,281.4 L1624.3,280.8 L1625.7,272.5 L1627.2,264.3 L1628.6,256.0 L1630.0,247.8 L1631.3,240.7 L1632.5,233.6 L1633.8,226.4 L1635.0,219.3 L1636.3,212.0 L1637.7,229.0 L1639.1,246.0 L1640.6,263.0 L1642.0,280.0 L1643.4,279.8 L1644.9,279.6 L1646.3,279.4 L1647.7,279.3 L1649.1,279.1 L1650.5,278.9 L1651.9,278.7 L1653.2,278.5 L1654.6,278.4 L1656.1,279.0 L1657.5,279.6 L1658.9,280.2 L1660.4,280.8 L1661.6,282.6 L1662.8,284.3 L1664.1,286.1 L1665.3,287.9 L1666.1,289.0 L1667.3,289.0 L1668.6,289.0 L1669.8,289.0 L1671.0,289.0 L1672.3,289.0 L1673.5,289.0 L1674.7,289.0 L1676.0,289.0 L1677.4,288.2 L1678.9,287.4 L1680.4,286.6 L1681.8,285.8 L1683.3,284.9 L1684.8,284.3 L1686.2,283.7 L1687.6,283.1 L1689.1,282.5 L1690.5,285.3 L1691.9,288.2 L1693.4,291.1 L1694.8,293.9 L1696.2,283.7 L1697.7,273.5 L1699.1,263.5 L1700.5,253.6 L1701.8,245.0 L1703.0,236.4 L1704.3,227.8 L1705.5,219.2 L1706.8,210.4 L1708.2,230.2 L1709.7,250.0 L1711.1,269.8 L1712.5,289.8 L1713.7,282.0 L1715.0,274.3 L1716.2,266.8 L1717.4,259.2 L1718.6,251.7 L1720.0,242.8 L1721.5,233.9 L1722.9,225.0 L1724.3,216.1 L1725.8,216.6 L1727.3,217.0 L1728.8,217.5 L1730.2,218.0 L1731.7,218.5 L1732.8,218.5 L1733.9,218.5 L1735.0,218.5 L1736.3,218.5 L1737.6,218.5 L1738.9,218.5 L1740.2,218.5 L1741.5,218.5 L1742.8,218.0 L1744.2,217.5 L1745.5,217.0 L1746.8,216.6 L1748.1,216.1 L1749.0,216.5 L1750.0,216.9 L1751.4,217.1 L1752.7,217.4 L1754.1,217.6 L1755.5,217.8 L1756.8,218.1 L1758.2,218.3 L1759.0,218.5 L1760.5,217.5 L1762.0,216.6 L1763.5,215.6 L1764.9,214.6 L1766.4,213.6 L1767.6,212.5 L1768.9,211.3 L1770.1,210.2 L1771.3,209.0 L1771.7,208.8 L1772.9,228.3 L1774.2,247.5 L1775.5,266.7 L1776.7,286.3 L1777.1,291.5 L1778.5,281.7 L1779.9,272.0 L1781.4,262.5 L1782.8,253.1 L1784.2,243.7 L1785.7,234.2 L1787.1,224.7 L1788.5,215.3 L1789.8,215.9 L1791.2,216.4 L1792.5,217.0 L1793.8,217.6 L1795.1,218.2 L1796.3,218.7 L1797.6,219.2 L1798.8,219.0 L1800.0,218.7 L1801.2,218.5 L1802.5,218.2 L1803.9,217.9 L1805.3,217.6 L1806.7,217.3 L1808.1,217.0 L1809.5,216.7 L1810.9,216.4 L1812.3,216.1 L1813.8,208.5 L1815.2,200.9 L1816.6,193.3 L1818.1,185.8 L1819.5,195.9 L1820.9,206.0 L1822.4,216.2 L1823.8,225.9 L1825.0,234.4 L1826.3,242.9 L1827.5,251.3 L1828.8,259.8 L1830.0,268.3 L1830.3,270.4 L1831.7,263.4 L1833.0,256.3 L1834.3,249.2 L1835.6,242.1 L1836.8,249.7 L1838.1,257.2 L1839.3,264.8 L1840.6,272.3 L1841.8,280.0 L1843.0,282.3 L1844.3,284.6 L1845.5,286.9 L1846.7,289.2 L1847.9,291.5 L1849.2,283.6 L1850.4,275.9 L1851.6,268.3 L1852.9,260.8 L1854.1,253.2 L1855.6,244.5 L1857.0,235.8 L1858.4,227.2 L1859.9,218.5 L1861.2,217.9 L1862.5,217.4 L1863.8,216.8 L1865.1,216.3 L1866.4,215.7 L1867.7,215.2 L1868.9,214.7 L1870.1,214.2 L1871.3,213.6 L1872.6,215.8 L1873.8,217.9 L1875.0,219.9 L1876.3,222.0 L1877.1,223.4 L1877.9,224.8 L1879.1,225.2 L1880.4,225.7 L1881.6,226.1 L1882.8,226.6 L1884.3,227.1 L1885.7,227.6 L1887.1,228.2 L1888.6,228.7 L1889.4,227.2 L1890.7,224.8 L1892.0,222.5 L1893.3,220.1 L1894.6,217.7 L1896.0,215.3 L1896.8,214.5 L1897.6,213.6 L1898.7,212.5 L1899.8,211.4 L1900.9,210.4 L1902.3,229.0 L1903.7,247.5 L1905.2,265.9 L1906.6,284.7 L1906.9,289.0 L1908.3,280.5 L1909.6,272.2 L1911.0,264.0 L1912.3,255.8 L1913.7,247.9 L1915.0,239.9 L1916.3,231.9 L1917.6,224.0 L1918.9,216.1 L1920.2,214.7 L1921.5,213.2 L1922.8,211.8 L1924.2,210.4 L1925.4,212.2 L1926.7,214.0 L1927.9,215.8 L1929.1,217.5 L1930.4,219.2 L1931.8,218.8 L1933.3,218.5 L1934.7,218.1 L1936.1,217.7 L1937.6,217.3 L1939.0,216.9 L1940.4,216.5 L1941.9,216.1 L1942.7,216.4 L1943.9,216.9 L1945.2,217.4 L1946.4,217.9 L1947.6,218.5 L1949.0,217.5 L1950.5,216.5 L1951.9,215.5 L1953.3,214.5 L1954.7,215.1 L1956.0,215.8 L1957.3,216.4 L1958.6,217.0 L1959.9,217.7 L1961.2,216.2 L1962.4,214.8 L1963.6,213.3 L1964.9,211.8 L1966.1,210.3 L1967.5,191.9 L1968.8,173.5 L1970.1,156.6 L1971.4,141.7 L1972.8,183.8 L1974.1,225.8 L1975.5,268.1 L1976.8,310.1 L1978.2,352.3 L1978.2,352.3 Z" fill="#388aa8"/>
<path d="M217.9,352.3 L217.9,212.2 L219.3,203.0 L220.6,193.7 L221.9,184.5 L223.2,175.3 L223.5,177.6 L224.3,183.4 L225.2,189.3 L226.6,221.8 L228.0,254.3 L229.4,286.7 L230.6,286.5 L231.9,286.3 L233.1,286.1 L234.3,285.9 L235.5,285.6 L236.9,286.4 L238.4,287.3 L239.8,288.1 L241.2,288.9 L242.6,289.2 L243.9,289.6 L245.2,289.9 L246.5,290.2 L247.8,290.5 L249.1,290.1 L250.4,289.7 L251.7,289.3 L253.1,288.8 L254.4,288.4 L255.6,280.5 L256.8,272.6 L258.1,264.7 L259.3,256.8 L260.5,248.9 L261.7,241.0 L263.0,233.1 L264.2,225.3 L265.0,225.8 L266.4,226.7 L267.9,227.6 L269.3,228.5 L270.8,229.4 L272.1,228.6 L273.4,227.7 L274.7,226.9 L276.0,226.1 L277.3,225.3 L278.8,225.7 L280.2,226.1 L281.6,226.5 L283.1,226.9 L284.5,226.1 L285.9,225.3 L287.4,224.5 L288.8,223.6 L290.2,219.1 L291.7,214.6 L293.1,210.1 L294.5,205.6 L295.9,222.1 L297.2,238.7 L298.6,255.3 L299.9,271.9 L301.1,285.9 L302.3,285.9 L303.6,285.9 L304.8,285.9 L306.0,285.9 L306.8,285.9 L307.6,285.9 L308.9,277.7 L310.1,269.4 L311.3,261.1 L312.6,252.9 L313.9,243.7 L315.3,234.5 L316.7,225.3 L317.5,225.2 L318.9,225.2 L320.4,225.1 L321.8,225.0 L323.2,224.9 L324.7,225.2 L326.1,225.5 L327.5,225.8 L329.0,226.1 L330.3,226.4 L331.7,226.6 L333.1,226.9 L334.3,226.5 L335.5,226.1 L336.8,225.7 L338.0,225.3 L339.2,224.9 L340.4,224.5 L341.7,224.0 L342.9,223.6 L344.0,222.4 L345.1,221.1 L346.2,219.8 L347.5,218.3 L348.8,216.8 L350.1,215.2 L351.4,213.7 L352.8,212.2 L354.0,227.6 L355.2,243.0 L356.5,258.4 L357.7,273.7 L359.0,289.2 L360.3,289.8 L361.6,290.5 L362.9,291.1 L364.2,291.7 L364.6,291.5 L365.9,290.7 L367.3,290.0 L368.6,289.2 L370.0,288.4 L370.5,288.9 L371.7,290.1 L372.9,291.3 L374.1,292.5 L375.3,293.8 L376.5,295.0 L378.0,296.4 L379.4,297.8 L380.8,299.3 L382.3,300.7 L383.6,291.2 L384.9,281.7 L386.2,272.1 L387.5,262.5 L388.8,253.0 L390.3,242.6 L391.7,232.2 L393.1,221.8 L394.6,211.3 L396.0,215.6 L397.4,220.0 L398.9,224.3 L400.3,228.5 L401.8,226.1 L403.2,223.6 L404.6,221.2 L406.1,218.8 L407.5,238.5 L408.9,258.0 L410.4,277.7 L411.8,297.3 L412.3,304.0 L413.5,293.5 L414.7,282.9 L415.9,272.5 L417.1,261.9 L418.4,251.4 L419.6,240.8 L420.8,230.1 L422.0,219.5 L423.3,208.9 L424.6,224.1 L426.0,239.1 L427.3,254.2 L428.6,269.2 L430.0,284.3 L431.4,286.2 L432.9,288.0 L434.3,289.9 L435.7,291.8 L437.2,293.6 L438.6,295.5 L440.1,297.3 L441.5,299.2 L442.9,301.1 L444.4,302.9 L445.8,304.8 L447.2,306.6 L447.7,307.3 L448.9,298.9 L450.1,290.4 L451.4,282.0 L452.6,273.5 L453.8,265.1 L455.2,255.2 L456.6,245.2 L458.1,235.3 L459.5,225.3 L460.9,225.2 L462.3,225.0 L463.7,224.9 L465.1,224.8 L466.6,224.7 L467.9,224.6 L469.4,224.5 L470.7,225.3 L472.0,226.2 L473.3,227.1 L474.6,228.0 L475.9,228.8 L476.7,229.4 L478.2,227.9 L479.6,226.5 L481.1,225.1 L482.5,223.6 L483.7,220.0 L485.0,216.4 L486.2,212.8 L487.5,209.2 L488.7,205.6 L490.1,229.9 L491.6,254.4 L493.0,278.7 L494.4,303.2 L494.8,300.9 L496.2,291.2 L497.6,281.4 L499.1,271.6 L500.5,261.9 L501.9,252.2 L503.4,242.4 L504.8,232.6 L506.2,222.8 L507.7,222.2 L509.1,221.6 L510.6,221.0 L512.0,220.4 L513.3,222.5 L514.6,224.6 L515.9,226.8 L517.2,228.9 L518.5,231.0 L520.0,230.2 L521.4,229.4 L522.8,228.6 L524.2,227.7 L525.6,226.9 L527.0,226.1 L528.4,225.3 L529.8,225.4 L531.1,225.5 L532.5,225.7 L533.9,225.8 L535.2,226.0 L536.6,226.1 L538.0,226.0 L539.5,225.9 L540.9,225.8 L542.3,225.7 L543.8,225.6 L545.2,225.5 L546.6,225.4 L548.1,225.3 L549.3,223.2 L550.5,221.2 L551.8,219.1 L553.0,217.1 L554.4,233.7 L555.9,250.4 L557.3,267.2 L558.7,283.8 L559.5,293.3 L561.0,285.0 L562.4,276.5 L563.9,268.1 L565.3,259.7 L566.7,251.3 L568.2,242.9 L569.6,234.5 L571.0,226.1 L572.5,226.0 L574.0,225.9 L575.4,225.8 L576.9,225.7 L578.3,225.6 L579.8,225.5 L581.2,225.5 L582.7,225.4 L584.1,225.3 L585.6,225.6 L587.0,225.9 L588.5,226.2 L589.9,226.5 L591.3,226.8 L592.8,227.1 L594.2,227.4 L595.6,227.7 L597.0,227.5 L598.4,227.3 L599.9,227.0 L601.2,226.8 L602.7,226.6 L604.1,226.3 L605.5,226.1 L606.9,225.6 L608.3,225.2 L609.8,224.7 L611.2,224.3 L612.6,223.9 L614.1,223.4 L615.5,223.0 L617.0,222.5 L617.8,222.2 L618.6,222.0 L619.8,238.6 L621.0,255.1 L622.3,271.6 L623.5,288.1 L624.3,299.0 L625.5,291.4 L626.8,283.7 L628.0,275.9 L629.2,268.2 L630.4,260.5 L631.8,251.9 L633.1,243.3 L634.5,234.7 L635.8,226.1 L636.6,226.1 L638.1,226.1 L639.5,226.1 L640.9,226.1 L642.4,226.1 L643.8,226.1 L645.2,226.1 L646.7,226.1 L648.1,226.1 L649.0,226.1 L650.0,226.1 L651.4,226.1 L652.8,226.1 L654.2,226.1 L655.6,226.1 L657.0,226.1 L658.4,226.1 L659.8,226.1 L661.2,226.1 L662.6,226.1 L664.1,226.1 L665.5,226.1 L666.9,226.1 L668.3,226.1 L669.7,226.1 L671.1,225.6 L672.6,225.2 L674.0,224.7 L675.5,224.3 L677.0,223.8 L678.4,223.4 L679.9,222.9 L681.3,222.4 L682.8,222.0 L684.2,240.8 L685.7,259.6 L687.1,278.5 L688.5,297.3 L688.9,301.5 L690.1,292.4 L691.4,283.3 L692.6,274.2 L693.9,265.1 L695.1,256.0 L696.5,246.0 L697.8,236.1 L699.2,226.1 L700.6,226.1 L702.0,226.1 L703.4,226.1 L704.8,226.1 L706.2,226.1 L707.6,226.1 L709.0,226.1 L710.5,226.1 L711.9,226.1 L713.3,226.1 L714.7,226.1 L716.1,226.1 L717.5,226.1 L718.9,226.1 L720.4,226.2 L721.9,226.2 L723.4,226.3 L724.8,226.4 L726.3,226.5 L727.8,226.5 L729.3,226.6 L730.8,226.7 L732.3,226.8 L733.8,226.8 L735.3,226.9 L736.4,225.6 L737.5,224.3 L738.5,223.0 L739.9,221.3 L741.3,219.7 L742.6,218.1 L744.0,216.4 L745.4,214.8 L746.8,213.1 L747.6,212.2 L748.9,232.7 L750.3,253.5 L751.6,274.2 L753.0,294.8 L753.3,299.8 L754.7,290.9 L756.2,281.9 L757.6,272.8 L759.0,263.8 L760.5,254.8 L761.9,245.8 L763.4,236.7 L764.8,227.7 L766.2,227.2 L767.7,226.6 L769.2,226.1 L770.6,225.5 L772.1,225.0 L773.5,224.5 L775.0,223.9 L776.5,223.4 L777.9,222.8 L779.2,223.5 L780.5,224.1 L781.9,224.8 L783.2,225.4 L784.5,226.1 L785.7,225.8 L786.9,225.6 L788.2,225.4 L789.4,225.1 L790.8,224.8 L792.3,224.5 L793.7,224.2 L795.1,224.0 L796.6,223.7 L798.0,223.4 L799.4,223.1 L800.9,222.8 L802.1,223.2 L803.3,223.6 L804.6,224.0 L805.8,224.5 L807.1,222.7 L808.4,220.8 L809.7,219.0 L811.0,217.2 L812.4,215.5 L813.8,233.1 L815.2,250.6 L816.6,268.1 L818.1,285.7 L818.6,291.7 L819.8,284.6 L821.0,277.4 L822.2,270.2 L823.4,263.0 L824.6,255.9 L825.9,248.7 L827.1,241.4 L828.3,234.1 L829.6,226.9 L831.0,226.8 L832.4,226.8 L833.9,226.7 L835.3,226.6 L836.8,226.6 L838.2,226.5 L839.6,226.4 L841.0,226.4 L842.5,226.3 L843.9,226.2 L845.4,226.2 L846.8,226.1 L848.2,226.2 L849.7,226.3 L851.1,226.4 L852.6,226.5 L854.0,226.6 L855.5,226.7 L856.9,226.8 L858.4,226.9 L859.9,227.0 L861.3,227.1 L862.8,227.2 L864.2,227.3 L865.6,227.4 L867.1,227.5 L868.5,227.6 L870.0,227.7 L871.3,225.6 L872.6,223.4 L873.9,221.2 L875.2,219.0 L876.6,216.8 L877.4,215.4 L878.7,234.3 L880.1,253.2 L881.4,272.0 L882.8,290.9 L884.0,284.3 L885.2,277.7 L886.4,271.2 L887.6,264.5 L888.9,258.0 L890.3,250.2 L891.7,242.4 L893.2,234.7 L894.6,226.9 L895.9,226.6 L897.2,226.3 L898.5,225.9 L899.9,225.6 L901.2,225.3 L902.6,222.8 L904.0,220.4 L905.5,217.9 L906.9,215.5 L908.2,235.3 L909.6,255.3 L911.0,275.1 L912.3,295.0 L913.5,291.7 L914.7,288.3 L916.0,285.0 L917.2,281.7 L918.4,278.3 L919.2,276.1 L920.4,271.2 L921.7,266.3 L922.9,261.3 L924.1,256.4 L924.9,253.1 L926.4,237.3 L927.9,221.4 L929.4,205.6 L930.6,210.8 L931.9,216.1 L933.1,221.3 L934.4,226.6 L935.6,231.8 L936.8,233.1 L938.0,234.5 L939.2,235.8 L940.5,237.1 L941.7,238.4 L943.0,253.5 L944.4,268.7 L945.7,283.9 L947.1,299.0 L947.9,299.1 L949.3,299.1 L950.8,299.1 L952.2,299.1 L953.6,299.1 L955.1,299.1 L956.5,299.1 L957.9,299.1 L959.4,299.1 L960.8,300.1 L962.2,301.1 L963.7,302.1 L965.1,303.2 L966.4,295.0 L967.7,286.8 L969.0,278.5 L970.4,270.3 L971.7,262.1 L973.1,253.1 L974.5,244.1 L976.0,235.1 L977.4,226.1 L978.7,226.2 L980.1,226.3 L981.4,226.4 L982.7,226.5 L984.1,226.6 L985.4,226.7 L986.7,226.8 L988.1,226.9 L989.5,226.8 L991.0,226.7 L992.4,226.6 L993.9,226.5 L995.4,226.5 L996.8,226.4 L998.3,226.3 L999.7,226.2 L1001.2,226.1 L1002.4,223.8 L1003.6,221.6 L1004.9,219.3 L1006.1,217.1 L1007.5,234.7 L1009.0,252.2 L1010.4,269.7 L1011.9,287.3 L1012.3,293.3 L1013.5,286.4 L1014.8,279.5 L1016.0,272.6 L1017.2,265.7 L1018.4,258.8 L1019.9,250.6 L1021.3,242.4 L1022.7,234.2 L1024.2,226.1 L1025.6,226.2 L1027.0,226.2 L1028.4,226.3 L1029.8,226.4 L1031.2,226.4 L1032.6,226.5 L1034.0,226.6 L1035.4,226.4 L1036.8,226.2 L1038.2,225.9 L1039.6,225.7 L1041.0,225.5 L1042.3,225.3 L1043.8,225.1 L1045.1,224.9 L1046.5,224.7 L1047.9,224.5 L1049.4,224.6 L1050.8,224.8 L1052.2,224.9 L1053.7,225.1 L1054.5,225.2 L1055.3,225.3 L1056.7,224.9 L1058.1,224.6 L1059.5,224.2 L1060.9,223.9 L1062.3,223.5 L1063.7,223.2 L1065.2,222.8 L1066.6,220.3 L1068.0,217.9 L1069.5,215.4 L1070.9,213.0 L1071.4,212.2 L1072.8,231.7 L1074.2,251.3 L1075.6,270.9 L1077.0,290.5 L1077.5,297.4 L1078.7,297.0 L1079.9,296.6 L1081.1,296.2 L1082.4,295.8 L1083.7,296.6 L1085.0,297.4 L1086.3,298.2 L1087.6,299.1 L1088.9,299.9 L1090.0,299.9 L1091.2,299.9 L1092.3,299.9 L1093.4,299.9 L1094.6,299.9 L1095.9,299.9 L1097.2,299.9 L1098.5,299.9 L1099.8,299.9 L1100.7,299.5 L1102.0,298.9 L1103.3,298.3 L1104.7,297.6 L1106.0,297.0 L1107.3,296.4 L1108.7,295.8 L1110.0,295.2 L1111.3,294.5 L1112.1,294.2 L1113.6,295.8 L1115.0,297.4 L1116.5,299.1 L1117.9,300.7 L1119.1,298.7 L1120.3,296.8 L1121.5,294.8 L1122.7,292.8 L1124.0,290.9 L1125.2,292.6 L1126.4,294.3 L1127.7,296.0 L1128.9,297.7 L1130.2,299.4 L1131.6,301.4 L1133.0,303.3 L1134.5,305.3 L1135.9,307.2 L1137.4,297.0 L1138.8,286.7 L1140.2,276.5 L1141.7,266.2 L1143.1,256.0 L1144.5,245.7 L1146.0,235.5 L1147.4,225.3 L1148.7,225.8 L1150.0,226.3 L1151.3,226.8 L1152.7,227.2 L1154.0,227.7 L1155.3,227.2 L1156.6,226.7 L1157.9,226.3 L1159.2,225.8 L1160.5,225.3 L1161.9,225.2 L1163.3,225.0 L1164.7,224.9 L1166.1,224.8 L1167.5,224.7 L1168.9,224.6 L1170.3,224.5 L1171.7,225.8 L1173.0,227.1 L1174.3,228.4 L1175.6,229.7 L1176.9,231.0 L1178.3,230.7 L1179.8,230.4 L1181.2,230.1 L1182.7,229.8 L1184.1,229.5 L1185.5,229.2 L1187.0,228.9 L1188.4,228.6 L1189.7,226.9 L1191.0,225.3 L1192.3,223.6 L1193.6,222.0 L1195.0,220.4 L1196.3,236.7 L1197.6,253.2 L1198.9,269.6 L1200.2,285.9 L1201.2,298.2 L1202.5,290.0 L1203.8,281.6 L1205.1,273.3 L1206.4,265.0 L1207.9,255.8 L1209.3,246.8 L1210.7,237.6 L1212.2,228.6 L1213.7,228.1 L1215.1,227.6 L1216.6,227.1 L1218.1,226.6 L1219.5,226.1 L1220.4,226.4 L1221.2,226.6 L1222.6,227.1 L1223.9,227.6 L1225.3,228.0 L1226.7,228.5 L1228.0,228.9 L1229.4,229.4 L1230.8,229.1 L1232.1,228.9 L1233.5,228.7 L1234.9,228.5 L1236.2,228.2 L1237.6,228.0 L1239.1,227.8 L1240.6,227.5 L1242.1,227.3 L1243.5,227.0 L1245.0,226.8 L1246.5,226.5 L1248.0,226.3 L1249.5,226.0 L1251.0,225.8 L1252.5,225.5 L1254.0,225.3 L1255.4,225.1 L1256.9,224.9 L1258.3,224.7 L1259.7,224.5 L1261.2,243.0 L1262.6,261.7 L1264.0,280.4 L1265.5,298.9 L1265.8,303.1 L1267.2,293.8 L1268.5,284.4 L1269.9,275.1 L1271.2,265.7 L1272.6,255.9 L1274.1,245.9 L1275.5,236.0 L1277.0,226.1 L1278.4,226.5 L1279.8,226.9 L1281.3,227.3 L1282.7,227.7 L1284.1,227.1 L1285.6,226.5 L1287.0,225.9 L1288.4,225.3 L1289.7,225.6 L1291.0,226.0 L1292.4,226.4 L1293.7,226.8 L1295.0,227.1 L1296.2,227.5 L1297.5,227.9 L1298.7,228.2 L1299.9,228.6 L1301.2,228.3 L1302.5,228.0 L1303.8,227.7 L1305.0,227.4 L1306.3,227.1 L1307.6,226.9 L1308.9,226.6 L1310.0,226.9 L1311.4,227.1 L1312.7,227.2 L1314.1,227.3 L1315.5,227.5 L1316.8,227.6 L1318.2,227.7 L1319.5,226.3 L1320.8,224.8 L1322.1,223.3 L1323.5,221.8 L1324.8,220.4 L1326.0,240.0 L1327.2,259.6 L1328.5,279.2 L1329.7,298.8 L1330.0,304.0 L1331.3,296.0 L1332.5,288.1 L1333.8,280.1 L1335.0,272.2 L1336.2,264.3 L1337.7,255.2 L1339.1,246.0 L1340.5,236.8 L1342.0,227.7 L1343.4,227.7 L1344.8,227.7 L1346.3,227.7 L1347.7,227.7 L1349.2,227.7 L1350.6,227.7 L1352.0,227.7 L1353.5,227.7 L1354.9,227.7 L1356.3,227.7 L1357.8,227.7 L1359.2,227.7 L1360.6,227.6 L1362.1,227.4 L1363.5,227.3 L1364.9,227.1 L1366.4,227.0 L1367.8,226.8 L1369.2,226.7 L1370.7,226.5 L1372.1,226.4 L1373.5,226.2 L1375.0,226.0 L1376.4,225.9 L1377.8,225.7 L1379.3,225.6 L1380.7,225.4 L1382.2,225.3 L1383.6,225.1 L1385.1,224.9 L1386.6,224.8 L1388.0,224.6 L1389.5,224.5 L1390.8,242.1 L1392.0,259.8 L1393.2,277.4 L1394.5,295.1 L1394.8,299.9 L1396.1,291.6 L1397.5,283.2 L1398.8,274.9 L1400.2,266.6 L1401.5,258.5 L1402.8,250.4 L1404.1,242.3 L1405.4,234.2 L1406.8,226.1 L1408.1,226.6 L1409.5,227.2 L1410.8,227.7 L1412.2,228.3 L1413.6,228.8 L1415.0,229.4 L1416.4,229.1 L1417.8,228.9 L1419.2,228.7 L1420.6,228.4 L1422.0,228.2 L1423.4,228.0 L1424.8,227.7 L1426.2,228.0 L1427.7,228.3 L1429.1,228.7 L1430.5,229.0 L1432.0,229.3 L1433.4,229.6 L1434.8,229.9 L1436.3,230.2 L1437.6,229.7 L1438.9,229.2 L1440.2,228.7 L1441.5,228.2 L1442.8,227.7 L1444.1,227.9 L1445.5,228.1 L1446.8,228.2 L1448.1,228.4 L1449.4,228.6 L1450.5,226.5 L1451.7,224.5 L1452.8,222.4 L1454.0,220.4 L1454.3,224.7 L1455.5,241.2 L1456.8,257.7 L1458.0,274.1 L1459.2,290.6 L1459.6,295.0 L1460.9,287.6 L1462.3,280.2 L1463.6,272.7 L1465.0,265.3 L1466.3,258.1 L1467.6,251.0 L1468.9,243.7 L1470.2,236.5 L1471.5,229.4 L1472.9,229.3 L1474.3,229.2 L1475.6,229.1 L1477.0,229.0 L1478.4,228.9 L1479.7,228.8 L1481.1,228.7 L1482.5,228.6 L1483.8,228.6 L1485.1,228.4 L1486.5,228.2 L1487.8,228.1 L1489.1,227.9 L1490.4,227.7 L1491.8,228.0 L1493.1,228.3 L1494.5,228.6 L1495.9,228.8 L1497.2,229.1 L1498.6,229.4 L1500.0,229.3 L1501.5,229.2 L1503.0,229.1 L1504.4,229.0 L1505.9,228.9 L1507.3,228.8 L1508.8,228.7 L1510.2,228.6 L1511.7,228.5 L1513.1,227.2 L1514.5,225.9 L1515.8,224.6 L1517.2,223.3 L1518.6,222.0 L1519.9,237.6 L1521.3,253.3 L1522.7,268.9 L1524.0,284.6 L1524.3,288.4 L1525.8,281.2 L1527.2,274.1 L1528.6,266.9 L1530.0,259.7 L1531.4,269.7 L1532.9,279.8 L1534.3,289.9 L1535.7,299.9 L1537.2,299.7 L1538.6,299.4 L1540.0,299.2 L1541.5,299.0 L1542.7,298.8 L1543.9,298.6 L1545.2,298.4 L1546.4,298.2 L1547.2,297.5 L1548.5,296.4 L1549.8,295.2 L1551.2,294.0 L1552.5,292.9 L1553.8,291.7 L1555.2,294.6 L1556.7,297.4 L1558.1,300.3 L1559.5,303.2 L1561.0,301.5 L1562.4,299.9 L1563.8,298.2 L1565.3,296.6 L1566.7,295.0 L1568.1,293.3 L1569.6,291.7 L1571.0,290.1 L1572.2,292.5 L1573.5,295.0 L1574.7,297.4 L1576.0,299.9 L1577.2,302.3 L1578.4,302.2 L1579.7,302.0 L1580.9,301.9 L1582.1,301.7 L1583.3,301.5 L1584.7,301.4 L1586.0,301.2 L1587.4,301.0 L1588.8,300.8 L1590.1,300.6 L1591.5,300.4 L1592.9,300.3 L1594.2,300.1 L1595.6,299.9 L1597.0,299.1 L1598.4,298.2 L1599.8,297.4 L1601.2,296.6 L1602.6,295.8 L1604.0,295.0 L1605.4,294.2 L1606.7,293.8 L1608.0,293.5 L1609.4,293.2 L1610.7,292.8 L1612.0,292.5 L1613.3,293.2 L1614.6,293.8 L1615.9,294.5 L1617.2,295.1 L1618.5,295.8 L1620.0,295.2 L1621.4,294.6 L1622.9,293.9 L1624.3,293.3 L1625.7,284.8 L1627.2,276.2 L1628.6,267.7 L1630.0,259.1 L1631.3,251.7 L1632.5,244.3 L1633.8,236.9 L1635.0,229.5 L1636.3,222.0 L1637.7,239.5 L1639.1,257.2 L1640.6,274.9 L1642.0,292.5 L1643.4,292.3 L1644.9,292.1 L1646.3,291.9 L1647.7,291.8 L1649.1,291.6 L1650.5,291.4 L1651.9,291.2 L1653.2,291.0 L1654.6,290.9 L1656.1,291.5 L1657.5,292.1 L1658.9,292.7 L1660.4,293.3 L1661.6,295.1 L1662.8,296.8 L1664.1,298.6 L1665.3,300.4 L1666.1,301.5 L1667.3,301.5 L1668.6,301.5 L1669.8,301.5 L1671.0,301.5 L1672.3,301.5 L1673.5,301.5 L1674.7,301.5 L1676.0,301.5 L1677.4,300.7 L1678.9,299.9 L1680.4,299.1 L1681.8,298.3 L1683.3,297.4 L1684.8,296.8 L1686.2,296.2 L1687.6,295.6 L1689.1,295.0 L1690.5,297.8 L1691.9,300.7 L1693.4,303.6 L1694.8,306.4 L1696.2,296.2 L1697.7,285.8 L1699.1,275.4 L1700.5,265.2 L1701.8,256.2 L1703.0,247.2 L1704.3,238.3 L1705.5,229.3 L1706.8,220.4 L1708.2,240.8 L1709.7,261.4 L1711.1,281.9 L1712.5,302.3 L1713.7,294.5 L1715.0,286.6 L1716.2,278.8 L1717.4,271.0 L1718.6,263.1 L1720.0,253.9 L1721.5,244.6 L1722.9,235.4 L1724.3,226.1 L1725.8,226.6 L1727.3,227.1 L1728.8,227.6 L1730.2,228.1 L1731.7,228.6 L1732.8,228.6 L1733.9,228.6 L1735.0,228.6 L1736.3,228.6 L1737.6,228.6 L1738.9,228.6 L1740.2,228.6 L1741.5,228.6 L1742.8,228.1 L1744.2,227.6 L1745.5,227.1 L1746.8,226.6 L1748.1,226.1 L1749.0,226.5 L1750.0,226.9 L1751.4,227.2 L1752.7,227.4 L1754.1,227.7 L1755.5,227.9 L1756.8,228.2 L1758.2,228.4 L1759.0,228.6 L1760.5,227.6 L1762.0,226.6 L1763.5,225.6 L1764.9,224.6 L1766.4,223.6 L1767.6,222.5 L1768.9,221.3 L1770.1,220.2 L1771.3,219.0 L1771.7,218.8 L1772.9,238.8 L1774.2,258.8 L1775.5,278.8 L1776.7,298.8 L1777.1,304.0 L1778.5,294.2 L1779.9,284.3 L1781.4,274.4 L1782.8,264.6 L1784.2,254.8 L1785.7,244.9 L1787.1,235.1 L1788.5,225.3 L1789.8,225.9 L1791.2,226.5 L1792.5,227.1 L1793.8,227.7 L1795.1,228.3 L1796.3,228.8 L1797.6,229.4 L1798.8,229.1 L1800.0,228.8 L1801.2,228.6 L1802.5,228.3 L1803.9,228.0 L1805.3,227.7 L1806.7,227.3 L1808.1,227.0 L1809.5,226.7 L1810.9,226.4 L1812.3,226.1 L1813.8,218.5 L1815.2,210.9 L1816.6,203.3 L1818.1,195.8 L1819.5,205.9 L1820.9,216.0 L1822.4,226.2 L1823.8,236.3 L1825.0,245.1 L1826.3,253.9 L1827.5,262.7 L1828.8,271.5 L1830.0,280.4 L1830.3,282.6 L1831.7,275.3 L1833.0,268.0 L1834.3,260.5 L1835.6,253.2 L1836.8,261.0 L1838.1,268.9 L1839.3,276.8 L1840.6,284.6 L1841.8,292.5 L1843.0,294.8 L1844.3,297.1 L1845.5,299.4 L1846.7,301.7 L1847.9,304.0 L1849.2,296.1 L1850.4,288.3 L1851.6,280.4 L1852.9,272.6 L1854.1,264.7 L1855.6,255.7 L1857.0,246.7 L1858.4,237.6 L1859.9,228.6 L1861.2,228.0 L1862.5,227.4 L1863.8,226.9 L1865.1,226.3 L1866.4,225.7 L1867.7,225.2 L1868.9,224.7 L1870.1,224.2 L1871.3,223.6 L1872.6,225.8 L1873.8,227.9 L1875.0,230.1 L1876.3,232.2 L1877.1,233.7 L1877.9,235.1 L1879.1,235.6 L1880.4,236.1 L1881.6,236.5 L1882.8,237.0 L1884.3,237.6 L1885.7,238.1 L1887.1,238.7 L1888.6,239.2 L1889.4,237.7 L1890.7,235.2 L1892.0,232.7 L1893.3,230.2 L1894.6,227.7 L1896.0,225.3 L1896.8,224.5 L1897.6,223.6 L1898.7,222.5 L1899.8,221.4 L1900.9,220.4 L1902.3,239.5 L1903.7,258.8 L1905.2,277.9 L1906.6,297.2 L1906.9,301.5 L1908.3,293.0 L1909.6,284.5 L1911.0,275.9 L1912.3,267.4 L1913.7,259.2 L1915.0,250.9 L1916.3,242.6 L1917.6,234.3 L1918.9,226.1 L1920.2,224.7 L1921.5,223.2 L1922.8,221.8 L1924.2,220.4 L1925.4,222.2 L1926.7,224.0 L1927.9,225.8 L1929.1,227.6 L1930.4,229.4 L1931.8,229.0 L1933.3,228.6 L1934.7,228.1 L1936.1,227.7 L1937.6,227.3 L1939.0,226.9 L1940.4,226.5 L1941.9,226.1 L1942.7,226.4 L1943.9,227.0 L1945.2,227.5 L1946.4,228.0 L1947.6,228.6 L1949.0,227.5 L1950.5,226.5 L1951.9,225.5 L1953.3,224.5 L1954.7,225.1 L1956.0,225.8 L1957.3,226.4 L1958.6,227.1 L1959.9,227.7 L1961.2,226.3 L1962.4,224.8 L1963.6,223.3 L1964.9,221.8 L1966.1,220.3 L1967.5,201.9 L1968.8,183.5 L1970.1,165.0 L1971.4,146.6 L1972.8,187.8 L1974.1,228.8 L1975.5,270.1 L1976.8,311.1 L1978.2,352.3 L1978.2,352.3 Z" fill="#7b7b20"/>
<rect x="216.5" y="148" width="1764" height="1" fill="#ffffff" opacity="0.14"/>
<rect x="216.5" y="249.7" width="1764" height="1" fill="#e8d890" opacity="0.22"/>
<rect x="216.5" y="301.7" width="1764" height="1" fill="#e8d890" opacity="0.16"/>
</g>
<!-- rendering chart lines -->
<g fill="none" stroke-width="1.3">
<path d="M218,360.5 L1971.5,360.5 L1972,380 L1977,483" stroke="#6b7c18"/>
<path d="M218,367.3 L1971.5,367.3 L1972,380" stroke="#357aa3"/>
<path d="M218,373.4 L1971.5,373.4 L1972,380" stroke="#b5671b"/>
<path d="M218,378.7 L1971.5,378.7 L1976.7,483" stroke="#3e8796"/>
</g>
<!-- frame marker -->
<rect x="656.5" y="138.5" width="5.7" height="344.5" fill="#ffffff" opacity="0.73"/>
</svg>
<div class="bx" style="left:221px;top:137px;width:99px;height:16px;border-radius:3px;background:rgba(0,0,0,0.76)"></div><div class="bx" style="left:221px;top:237px;width:102px;height:19px;border-radius:3px;background:rgba(0,0,0,0.76)"></div><div class="bx" style="left:221px;top:287px;width:100px;height:19px;border-radius:3px;background:rgba(0,0,0,0.76)"></div><div class="bx" style="left:605px;top:193px;width:55.5px;height:19px;border-radius:3px;background:rgba(0,0,0,0.76)"></div><div class="bx" style="left:606px;top:212px;width:54.5px;height:18px;border-radius:3px;background:rgba(0,0,0,0.76)"></div><div class="bx" style="left:605px;top:230px;width:55.5px;height:19px;border-radius:3px;background:rgba(0,0,0,0.76)"></div><div class="bx" style="left:598px;top:280px;width:63px;height:19px;border-radius:3px;background:rgba(0,0,0,0.76)"></div><div class="bx" style="left:661px;top:196px;width:57px;height:19px;border-radius:3px;background:rgba(0,0,0,0.76)"></div><div class="bx" style="left:661px;top:215px;width:56px;height:18px;border-radius:3px;background:rgba(0,0,0,0.76)"></div><div class="bx" style="left:661px;top:233px;width:57px;height:19px;border-radius:3px;background:rgba(0,0,0,0.76)"></div><div class="bx" style="left:661px;top:354px;width:45px;height:18px;border-radius:3px;background:rgba(0,0,0,0.76)"></div><div class="bx" style="left:629px;top:373px;width:31px;height:18px;border-radius:3px;background:rgba(0,0,0,0.76)"></div><div class="bx" style="left:661px;top:373px;width:50px;height:18px;border-radius:3px;background:rgba(0,0,0,0.76)"></div><div class="bx" style="left:611px;top:392px;width:49px;height:18px;border-radius:3px;background:rgba(0,0,0,0.76)"></div>
<div class="sq" style="top:175px;background:#7f9a10"></div><div class="hd" style="top:176px"></div><div class="sq" style="top:194px;background:#3a84ac"></div><div class="hd" style="top:195px"></div><div class="sq" style="top:212.5px;background:#c26a14"></div><div class="hd" style="top:213.5px"></div><div class="sq" style="top:231px;background:#3f9ab4"></div><div class="hd" style="top:232px"></div><div class="sq" style="top:250px;background:#5e701a"></div><div class="hd" style="top:251px"></div><div class="sq" style="top:269px;background:#b89c3a"></div><div class="hd" style="top:270px"></div><div class="sq" style="top:287.5px;background:#5e3426"></div><div class="hd" style="top:288.5px"></div><div class="sq" style="top:306.5px;background:#46567a"></div><div class="hd" style="top:307.5px"></div><div class="sq" style="top:325px;background:#76881a"></div><div class="hd" style="top:326px"></div><div class="sq" style="top:390px;background:#7f9a10"></div><div class="sq" style="top:408.5px;background:#3a84ac"></div><div class="sq" style="top:427.5px;background:#b86414"></div><div class="sq" style="top:446px;background:#3f9ab4"></div>
<!-- bottom area -->
<div style="left:5px;top:483px;width:1991px;height:0.8px;background:#1f1f1f"></div>
<div style="left:1239.1px;top:483.6px;width:2px;height:551.5px;background:#111111"></div>
<div style="left:179.5px;top:582.5px;width:855.5px;height:23.5px;background:#c86400"></div>
<div style="left:179.5px;top:625px;width:923.5px;height:23.5px;background:#c86400"></div>
<div style="left:485px;top:563.5px;width:1.2px;height:104px;background:#b8b8b8"></div>
<span class="t" style="font-size:15.2px;font-weight:700;font-style:normal;color:#b8b8b8;letter-spacing:0.291px;top:8.20px;left:700.5px;width:600px;text-align:center;">Profiler</span>
<span class="t" style="font-size:13.8px;font-weight:400;font-style:normal;color:#c8c8c8;letter-spacing:0.350px;top:43.50px;left:33.3px;">Profiler</span>
<span class="t" style="font-size:13.8px;font-weight:400;font-style:normal;color:#b9b9b9;letter-spacing:0.457px;top:68.60px;left:9px;">Profiler Modules</span>
<span class="t" style="font-size:13.8px;font-weight:400;font-style:normal;color:#b9b9b9;letter-spacing:0.424px;top:68.60px;left:219px;">Play Mode</span>
<span class="t" style="font-size:13.8px;font-weight:400;font-style:normal;color:#b9b9b9;letter-spacing:0.495px;top:68.60px;left:431px;">Frame: 170 / 394</span>
<span class="t" style="font-size:13.8px;font-weight:400;font-style:normal;color:#b9b9b9;letter-spacing:0.403px;top:68.60px;left:562px;">Clear</span>
<span class="t" style="font-size:13.8px;font-weight:400;font-style:normal;color:#b9b9b9;letter-spacing:0.321px;top:68.60px;left:853px;">Clear on Play</span>
<span class="t" style="font-size:13.8px;font-weight:400;font-style:normal;color:#b9b9b9;letter-spacing:0.422px;top:68.60px;left:953px;">Deep Profile</span>
<span class="t" style="font-size:13.8px;font-weight:400;font-style:normal;color:#b9b9b9;letter-spacing:0.362px;top:68.60px;left:1045px;">Call Stacks</span>
<span class="t" style="font-size:16.7px;font-weight:400;font-style:normal;color:#c8c8c8;letter-spacing:0.372px;top:95.20px;left:14px;">Highlights</span>
<span class="t" style="font-size:12.2px;font-weight:400;font-style:normal;color:#979797;letter-spacing:0.652px;top:118.20px;left:13px;">Target Frame Time: 60 FPS</span>
<span class="t" style="font-size:16.7px;font-weight:400;font-style:normal;color:#c8c8c8;letter-spacing:0.099px;top:143.70px;left:33px;">CPU Usage</span>
<span class="t" style="font-size:13.8px;font-weight:400;font-style:normal;color:#b9b9b9;letter-spacing:0.481px;top:168.70px;left:24px;">Rendering</span>
<span class="t" style="font-size:13.8px;font-weight:400;font-style:normal;color:#b9b9b9;letter-spacing:0.547px;top:187.70px;left:24px;">Scripts</span>
<span class="t" style="font-size:13.8px;font-weight:400;font-style:normal;color:#b9b9b9;letter-spacing:0.350px;top:206.20px;left:24px;">Physics</span>
<span class="t" style="font-size:13.8px;font-weight:400;font-style:normal;color:#b9b9b9;letter-spacing:0.516px;top:224.70px;left:24px;">Animation</span>
<span class="t" style="font-size:13.8px;font-weight:400;font-style:normal;color:#b9b9b9;letter-spacing:0.554px;top:243.70px;left:24px;">GarbageCollector</span>
<span class="t" style="font-size:13.8px;font-weight:400;font-style:normal;color:#b9b9b9;letter-spacing:0.425px;top:262.70px;left:24px;">VSync</span>
<span class="t" style="font-size:13.8px;font-weight:400;font-style:normal;color:#b9b9b9;letter-spacing:0.394px;top:281.20px;left:24px;">Global Illumination</span>
<span class="t" style="font-size:13.8px;font-weight:400;font-style:normal;color:#b9b9b9;letter-spacing:0.094px;top:300.20px;left:24px;">UI</span>
<span class="t" style="font-size:13.8px;font-weight:400;font-style:normal;color:#b9b9b9;letter-spacing:0.599px;top:318.70px;left:24px;">Others</span>
<span class="t" style="font-size:16.7px;font-weight:400;font-style:normal;color:#c8c8c8;letter-spacing:0.109px;top:358.70px;left:33px;">Rendering</span>
<span class="t" style="font-size:13.8px;font-weight:400;font-style:normal;color:#b9b9b9;letter-spacing:0.499px;top:383.70px;left:24px;">Batches Count</span>
<span class="t" style="font-size:13.8px;font-weight:400;font-style:normal;color:#b9b9b9;letter-spacing:0.393px;top:402.20px;left:24px;">SetPass Calls Count</span>
<span class="t" style="font-size:13.8px;font-weight:400;font-style:normal;color:#b9b9b9;letter-spacing:0.474px;top:421.20px;left:24px;">Triangles Count</span>
<span class="t" style="font-size:13.8px;font-weight:400;font-style:normal;color:#b9b9b9;letter-spacing:0.590px;top:439.70px;left:24px;">Vertices Count</span>
<span class="t" style="font-size:14.6px;font-weight:400;font-style:italic;color:#bdbdbd;letter-spacing:0.681px;top:508.20px;left:185.5px;width:600px;text-align:center;">Target Frame Time</span>
<span class="t" style="font-size:14.6px;font-weight:400;font-style:italic;color:#bdbdbd;letter-spacing:0.488px;top:525.90px;left:185.5px;width:600px;text-align:center;">16.667ms</span>
<span class="t" style="font-size:14.6px;font-weight:700;font-style:italic;color:#c4c4c4;letter-spacing:0.701px;top:545.20px;left:185.5px;width:600px;text-align:center;">(60 FPS)</span>
<span class="t" style="font-size:16px;font-weight:400;font-style:normal;color:#c8c8c8;letter-spacing:0.665px;top:585.70px;right:1841px;">CPU Active Time</span>
<span class="t" style="font-size:16px;font-weight:400;font-style:normal;color:#c8c8c8;letter-spacing:0.400px;top:627.70px;right:1841px;">GPU Time</span>
<span class="t" style="font-size:16px;font-weight:400;font-style:normal;color:#c8c8c8;letter-spacing:0.967px;top:585.70px;right:786px;">46.482ms</span>
<span class="t" style="font-size:16px;font-weight:400;font-style:normal;color:#c8c8c8;letter-spacing:-0.033px;top:627.70px;right:786px;">50.181ms</span>
<span class="t" style="font-size:14.2px;font-weight:400;font-style:italic;color:#c4c4c4;letter-spacing:0.425px;top:681.20px;left:29px;">The target frame time can be changed via the dropdown in the Highlights chart.</span>
<span class="t" style="font-size:15.9px;font-weight:400;font-style:normal;color:#bcbcbc;letter-spacing:0.404px;top:508.40px;left:1265.5px;"><b>The CPU and the GPU exceeded your target frame time in this frame.</b></span>
<span class="t" style="font-size:15.9px;font-weight:400;font-style:normal;color:#bcbcbc;letter-spacing:0.717px;top:548.40px;left:1265.5px;">In this frame the CPU spent the majority of its time executing on the <b>Main thread</b>.</span>
<span class="t" style="font-size:15.9px;font-weight:400;font-style:normal;color:#bcbcbc;letter-spacing:0.733px;top:568.40px;left:1265.5px;">Therefore, you should initially focus on this to begin your investigation.</span>
<span class="t" style="font-size:15.9px;font-weight:400;font-style:normal;color:#bcbcbc;letter-spacing:0.438px;top:607.90px;left:1265.5px;"><b>How to inspect further:</b></span>
<span class="t" style="font-size:15.9px;font-weight:400;font-style:normal;color:#bcbcbc;letter-spacing:0.667px;top:627.90px;left:1265.5px;">To optimize your game’s CPU utilization, begin by using the <span class="lnk">CPU module’s Timeline view</span> to</span>
<span class="t" style="font-size:15.9px;font-weight:400;font-style:normal;color:#bcbcbc;letter-spacing:0.801px;top:647.90px;left:1265.5px;">see which systems contributed the most to this time spent executing on the CPU.</span>
<span class="t" style="font-size:15.9px;font-weight:400;font-style:normal;color:#bcbcbc;letter-spacing:0.720px;top:687.40px;left:1265.5px;">You might also consider using the <span class="lnk">Profile Analyzer</span> to perform a deeper statistical analysis</span>
<span class="t" style="font-size:15.9px;font-weight:400;font-style:normal;color:#bcbcbc;letter-spacing:0.771px;top:707.40px;left:1265.5px;">and/or to compare Profiler captures after you have made some optimizations.</span>
<span class="t" style="font-size:15.9px;font-weight:400;font-style:normal;color:#bcbcbc;letter-spacing:0.703px;top:747.40px;left:1265.5px;">To optimize your game’s GPU utilization, use the <span class="lnk">Frame Debugger</span> to step through</span>
<span class="t" style="font-size:15.9px;font-weight:400;font-style:normal;color:#bcbcbc;letter-spacing:0.756px;top:767.40px;left:1265.5px;">individual draw calls and see in detail how the scene is constructed from its graphical</span>
<span class="t" style="font-size:15.9px;font-weight:400;font-style:normal;color:#bcbcbc;letter-spacing:0.677px;top:787.40px;left:1265.5px;">elements.</span>
<span class="t" style="font-size:15.9px;font-weight:400;font-style:normal;color:#bcbcbc;letter-spacing:0.715px;top:826.90px;left:1265.5px;">You might also consider using a native GPU profiler for the platform you are targeting.</span>
<span class="t" style="font-size:15.9px;font-weight:400;font-style:normal;color:#bcbcbc;letter-spacing:0.742px;top:846.90px;left:1265.5px;">Please see the <span class="lnk">Unity documentation</span> for more information.</span>
<span class="t" style="font-size:14.2px;font-weight:400;font-style:normal;color:#b0a6a6;letter-spacing:-0.490px;top:93.00px;left:223px;">CPU</span>
<span class="t" style="font-size:14.2px;font-weight:400;font-style:normal;color:#b0ae96;letter-spacing:-0.750px;top:116.50px;left:223px;">GPU</span>
<span class="t" style="font-size:14.6px;font-weight:400;font-style:normal;color:#bcbcbc;letter-spacing:-0.173px;top:134.30px;left:225px;">66ms (15FPS)</span>
<span class="t" style="font-size:14.6px;font-weight:400;font-style:normal;color:#bcbcbc;letter-spacing:-0.007px;top:236.30px;left:225px;">33ms (30FPS)</span>
<span class="t" style="font-size:14.6px;font-weight:400;font-style:normal;color:#bcbcbc;letter-spacing:-0.173px;top:286.80px;left:225px;">16ms (60FPS)</span>
<span class="t" style="font-size:14.6px;font-weight:400;font-style:normal;color:#a9af98;letter-spacing:-0.143px;top:191.80px;right:1343px;">2.74ms</span>
<span class="t" style="font-size:14.6px;font-weight:400;font-style:normal;color:#b4aa8c;letter-spacing:-0.310px;top:210.30px;right:1343px;">0.01ms</span>
<span class="t" style="font-size:14.6px;font-weight:400;font-style:normal;color:#b6b27e;letter-spacing:0.190px;top:229.30px;right:1343px;">0.00ms</span>
<span class="t" style="font-size:14.6px;font-weight:400;font-style:normal;color:#aeaea2;letter-spacing:-0.141px;top:279.30px;right:1343px;">41.54ms</span>
<span class="t" style="font-size:14.6px;font-weight:400;font-style:normal;color:#a8a8a8;letter-spacing:0.023px;top:195.30px;left:666px;">3.58ms</span>
<span class="t" style="font-size:14.6px;font-weight:400;font-style:normal;color:#9cb6c0;letter-spacing:-0.143px;top:213.80px;left:666px;">0.07ms</span>
<span class="t" style="font-size:14.6px;font-weight:400;font-style:normal;color:#a8a8a8;letter-spacing:0.023px;top:232.80px;left:666px;">0.02ms</span>
<span class="t" style="font-size:14.6px;font-weight:400;font-style:normal;color:#a8ae80;letter-spacing:0.059px;top:353.30px;left:666px;">4.94k</span>
<span class="t" style="font-size:14.6px;font-weight:400;font-style:normal;color:#90a8b4;letter-spacing:-0.453px;top:371.80px;right:1343px;">133</span>
<span class="t" style="font-size:14.6px;font-weight:400;font-style:normal;color:#b89a78;letter-spacing:0.087px;top:371.80px;left:666px;">6.56M</span>
<span class="t" style="font-size:14.6px;font-weight:400;font-style:normal;color:#98acb0;letter-spacing:0.087px;top:390.80px;right:1343px;">6.28M</span><svg style="left:0;top:0" width="1999" height="1037" viewBox="0 0 1999 1037"><circle cx="22.5" cy="54" r="5.9" fill="#b2b2b2"/><path d="M22.2,54.4 L25.2,50.6" stroke="#323232" stroke-width="1.3" stroke-linecap="round"/><path d="M14.6,49.3 L18.4,46" stroke="#b2b2b2" stroke-width="1.7" stroke-linecap="round"/><path d="M200.2,75.3 L208.8,75.3 L204.5,80.10000000000001 Z" fill="#bdbdbd"/><path d="M292.09999999999997,75.19999999999999 L300.7,75.19999999999999 L296.4,80.0 Z" fill="#bdbdbd"/><path d="M1130.7,75.19999999999999 L1139.3,75.19999999999999 L1135,80.0 Z" fill="#bdbdbd"/><path d="M193.20000000000002,124.75 L201.6,124.75 L197.4,129.65 Z" fill="#b0b0b0"/><circle cx="321.4" cy="77.5" r="8" fill="#363b3c" stroke="#9c9c9c" stroke-width="1.1"/><circle cx="321.4" cy="77.6" r="4.7" fill="#d9544c"/><rect x="345.9" y="71.5" width="2.6" height="12" fill="#ababab"/><path d="M349.4,77.5 L358,71.5 L358,83.5 Z" fill="#ababab"/><rect x="385.7" y="71.5" width="2.7" height="12" fill="#ababab"/><path d="M385.4,77.5 L376.8,71.5 L376.8,83.5 Z" fill="#ababab"/><rect x="418.6" y="72.8" width="2.8" height="9.4" fill="#ababab"/><path d="M411.9,77.5 L405.2,72.8 L405.2,82.2 Z M418.7,77.5 L411.9,72.8 L411.9,82.2 Z" fill="#ababab"/><path d="M1897.1,73.6 L1897.1,70.8 L1882.9,70.8 L1882.9,84.2 L1897.1,84.2 L1897.1,81.4" fill="none" stroke="#ababab" stroke-width="1.9" stroke-linejoin="round"/><path d="M1886,77.5 L1891.3,72.9 L1891.3,76 L1898.1,76 L1898.1,79 L1891.3,79 L1891.3,82.1 Z" fill="#ababab"/><path d="M1912.4,70 L1923.4,70 L1927.1,73.7 L1927.1,85.2 L1912.4,85.2 Z" fill="#ababab"/><rect x="1914.6" y="70" width="7.3" height="3.6" fill="#323232"/><rect x="1916.4" y="70.3" width="1.4" height="2.4" fill="#b4b4b4"/><rect x="1919.3" y="70.3" width="1.4" height="2.4" fill="#b4b4b4"/><rect x="1915.6" y="78" width="8.6" height="7.2" fill="#323232"/><rect x="1916.7" y="79.3" width="6.4" height="5.9" fill="#a8a8a8"/><rect x="1918.5" y="79.6" width="0.8" height="5.6" fill="#555"/><rect x="1920.5" y="79.6" width="0.8" height="5.6" fill="#555"/><circle cx="1950" cy="77.5" r="6.1" fill="#ababab"/><text x="1950" y="81.3" text-anchor="middle" font-family="Liberation Sans, sans-serif" font-weight="700" font-size="10.5" fill="#323232">?</text><circle cx="1980.6" cy="73" r="1.55" fill="#bdbdbd"/><circle cx="1980.6" cy="77.5" r="1.55" fill="#bdbdbd"/><circle cx="1980.6" cy="82.1" r="1.55" fill="#bdbdbd"/><circle cx="1977.9" cy="46.3" r="1.55" fill="#bdbdbd"/><circle cx="1977.9" cy="50.7" r="1.55" fill="#bdbdbd"/><circle cx="1977.9" cy="55.2" r="1.55" fill="#bdbdbd"/><clipPath id="cpuc"><rect x="10" y="143" width="16" height="10.9"/></clipPath><circle cx="17.85" cy="150.2" r="6.1" fill="#b0b0b0" clip-path="url(#cpuc)"/><path d="M17.6,151 L21.2,146.8" stroke="#303030" stroke-width="1.2" stroke-linecap="round"/><text x="17.9" y="161" text-anchor="middle" font-family="Liberation Sans, sans-serif" font-weight="700" font-size="7.6" letter-spacing="0.2" fill="#b8b8b8">CPU</text><circle cx="15.1" cy="366.5" r="4.6" fill="none" stroke="#b4b4b4" stroke-width="1.7"/><circle cx="13.5" cy="364.8" r="1.3" fill="#d0d0d0"/><path d="M9.7,372.8 L24.3,372.8 L24.3,369.3 L25.9,369.3 L25.9,376 L9.7,376 Z" fill="#b0b0b0"/><path d="M17.8,371 Q21.5,371 25.2,369.8" stroke="#b0b0b0" stroke-width="1.3" fill="none"/></svg>
</div></body></html>
